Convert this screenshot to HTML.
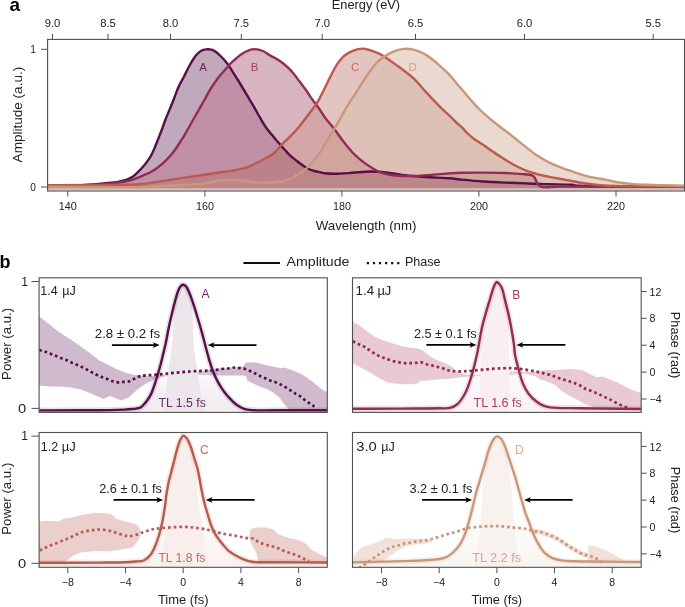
<!DOCTYPE html><html><head><meta charset="utf-8"><style>html,body{margin:0;padding:0;background:#fff;overflow:hidden}svg{display:block;will-change:transform}</style></head><body><svg width="685" height="607" viewBox="0 0 685 607" font-family="&quot;Liberation Sans&quot;, sans-serif">
<rect width="685" height="607" fill="#fff"/>
<g>
<rect x="47.6" y="188.3" width="636.9" height="2.2" fill="#dcbcb8"/>
<clipPath id="fA"><path d="M47.6,186.3C56.5,186 66.7,185.6 74.2,185.3C79.8,185.1 83.9,184.9 88.8,184.6C93.7,184.3 98.5,183.8 103.4,183.4C108.3,182.9 113.8,182.6 118,181.9C121.3,181.3 124.2,180.7 126.8,179.7C129,178.9 130.7,178 132.6,176.8C134.6,175.4 136.5,173.6 138.4,171.7C140.6,169.6 142.9,167 144.9,164.6C146.7,162.3 148.4,160.1 149.9,157.7C151.4,155.2 152.5,152.6 153.8,149.8C155.2,146.7 156.5,143.2 157.8,139.9C159.1,136.6 160.4,133.4 161.7,130C163,126.6 164.2,122.9 165.5,119.5C166.8,116.1 168.3,112.9 169.6,109.6C170.9,106.4 172.1,103.4 173.5,100C175.1,96 176.7,91 178.5,87C180.1,83.4 182.1,80.2 183.8,77C185.3,74 186.6,71.1 188.1,68.3C189.5,65.6 191,62.8 192.5,60.4C193.9,58.2 195.3,56 196.9,54.3C198.3,52.9 199.8,51.6 201.3,50.8C202.7,50.1 204.3,49.6 205.7,49.4C206.9,49.2 207.9,49.2 209,49.3C210,49.4 210.8,49.4 211.8,49.7C212.9,50.1 214.1,50.8 215.3,51.6C216.9,52.7 218.8,54.4 220.5,56C222.3,57.7 224.3,59.8 225.8,61.7C227.1,63.3 228,64.7 229.3,66.5C230.9,68.9 233,72.4 234.6,74.8C235.8,76.7 236.6,77.9 237.9,80C240,83.4 243.2,88.8 245.8,93.2C248.4,97.6 251.2,102.1 253.7,106.4C256,110.4 258.1,114.4 260.3,118.2C262.5,121.9 264.6,125.6 266.9,128.8C269,131.7 271.3,134.1 273.5,136.7C275.7,139.3 277.9,142 280.1,144.6C282.3,147.1 284.9,149.9 286.7,151.9C288,153.3 288.7,154.2 290,155.4C291.4,156.7 293.3,158.1 294.9,159.4C296.6,160.7 298.2,162.1 299.9,163.3C301.5,164.5 303.3,165.8 304.8,166.8C306,167.6 307.1,168.2 308.3,168.8C309.5,169.4 310.7,169.8 312.2,170.3C314.3,171 317.4,171.7 319.7,172.2C321.7,172.6 323.2,173 325.3,173.3C327.9,173.6 330.8,173.8 334.3,173.8C339.3,173.8 346.4,173.2 352.5,172.8C358.5,172.4 364.5,171.5 370.6,171.5C376.9,171.5 383.8,172.2 389.8,172.9C395.2,173.5 399.5,174.5 405,175.2C411.3,176 418.4,176.5 425.6,177C433.4,177.5 443.4,177.8 450,178.3C454.6,178.7 457.2,179.2 461.7,179.6C467.8,180.2 476.2,181 483.5,181.5C490.7,182 498,182.3 505.2,182.6C512.5,182.9 519.7,183.1 527,183.4C534.2,183.7 541.3,184 548.7,184.2C556.3,184.4 566.8,184.3 572,184.8C574.7,185.1 575.4,185.6 578,185.8C583,186.2 590.3,186 600,186.1C619,186.3 656,186.2 684,186.3 L684,188.3 L47.6,188.3Z"/></clipPath>
<path d="M47.6,186.3C56.5,186 66.7,185.6 74.2,185.3C79.8,185.1 83.9,184.9 88.8,184.6C93.7,184.3 98.5,183.8 103.4,183.4C108.3,182.9 113.8,182.6 118,181.9C121.3,181.3 124.2,180.7 126.8,179.7C129,178.9 130.7,178 132.6,176.8C134.6,175.4 136.5,173.6 138.4,171.7C140.6,169.6 142.9,167 144.9,164.6C146.7,162.3 148.4,160.1 149.9,157.7C151.4,155.2 152.5,152.6 153.8,149.8C155.2,146.7 156.5,143.2 157.8,139.9C159.1,136.6 160.4,133.4 161.7,130C163,126.6 164.2,122.9 165.5,119.5C166.8,116.1 168.3,112.9 169.6,109.6C170.9,106.4 172.1,103.4 173.5,100C175.1,96 176.7,91 178.5,87C180.1,83.4 182.1,80.2 183.8,77C185.3,74 186.6,71.1 188.1,68.3C189.5,65.6 191,62.8 192.5,60.4C193.9,58.2 195.3,56 196.9,54.3C198.3,52.9 199.8,51.6 201.3,50.8C202.7,50.1 204.3,49.6 205.7,49.4C206.9,49.2 207.9,49.2 209,49.3C210,49.4 210.8,49.4 211.8,49.7C212.9,50.1 214.1,50.8 215.3,51.6C216.9,52.7 218.8,54.4 220.5,56C222.3,57.7 224.3,59.8 225.8,61.7C227.1,63.3 228,64.7 229.3,66.5C230.9,68.9 233,72.4 234.6,74.8C235.8,76.7 236.6,77.9 237.9,80C240,83.4 243.2,88.8 245.8,93.2C248.4,97.6 251.2,102.1 253.7,106.4C256,110.4 258.1,114.4 260.3,118.2C262.5,121.9 264.6,125.6 266.9,128.8C269,131.7 271.3,134.1 273.5,136.7C275.7,139.3 277.9,142 280.1,144.6C282.3,147.1 284.9,149.9 286.7,151.9C288,153.3 288.7,154.2 290,155.4C291.4,156.7 293.3,158.1 294.9,159.4C296.6,160.7 298.2,162.1 299.9,163.3C301.5,164.5 303.3,165.8 304.8,166.8C306,167.6 307.1,168.2 308.3,168.8C309.5,169.4 310.7,169.8 312.2,170.3C314.3,171 317.4,171.7 319.7,172.2C321.7,172.6 323.2,173 325.3,173.3C327.9,173.6 330.8,173.8 334.3,173.8C339.3,173.8 346.4,173.2 352.5,172.8C358.5,172.4 364.5,171.5 370.6,171.5C376.9,171.5 383.8,172.2 389.8,172.9C395.2,173.5 399.5,174.5 405,175.2C411.3,176 418.4,176.5 425.6,177C433.4,177.5 443.4,177.8 450,178.3C454.6,178.7 457.2,179.2 461.7,179.6C467.8,180.2 476.2,181 483.5,181.5C490.7,182 498,182.3 505.2,182.6C512.5,182.9 519.7,183.1 527,183.4C534.2,183.7 541.3,184 548.7,184.2C556.3,184.4 566.8,184.3 572,184.8C574.7,185.1 575.4,185.6 578,185.8C583,186.2 590.3,186 600,186.1C619,186.3 656,186.2 684,186.3 L684,188.3 L47.6,188.3Z" fill="#987091" fill-opacity="0.6"/>
<clipPath id="fB"><path d="M47.6,186C61.7,185.6 78.5,185.4 90,184.9C97.9,184.5 103.8,184.2 110,183.6C115.4,183.1 120.9,182.4 125,181.6C128,181 130.1,180.5 132.6,179.7C135.1,178.9 137.8,177.8 140,176.9C141.8,176.1 143.3,175.3 145,174.6C146.6,173.9 148.1,173.4 149.9,172.5C152.3,171.3 155.2,169.5 157.8,167.5C160.8,165.3 164,162.3 166.7,159.6C169.2,157 171.3,154.7 173.6,151.7C176.3,148.2 179.1,143.7 181.5,139.9C183.7,136.5 185.5,133.3 187.4,130C189.3,126.7 191.1,123.3 193,120C194.9,116.7 196.8,113.3 198.7,110C200.6,106.7 202.3,103.5 204.3,100C206.6,95.9 209.3,91 211.8,87C214.1,83.4 216.6,79.9 218.8,77C220.6,74.7 222.3,72.9 224.1,70.9C225.8,68.9 227.5,66.7 229.3,64.8C231.1,62.9 233.1,61.2 235,59.5C237,57.8 238.8,56 241,54.5C243.3,52.9 246.2,51.2 248.7,50.3C250.8,49.5 252.5,49.1 254.7,49.1C257.2,49.1 260.4,49.9 263,51C265.5,52 267.4,53.9 270,55.4C273,57.2 276.9,58.9 279.9,60.9C282.8,62.8 285.4,65.1 287.8,67.3C290,69.4 291.8,71.4 293.7,73.7C295.7,76.1 297.6,79 299.6,81.6C301.6,84.2 303.7,86.8 305.6,89.5C307.6,92.3 309.5,95.5 311.5,98.4C313.4,101.1 315.3,103.4 317.4,106.3C319.9,109.8 322.5,114.2 325.3,118C328.1,121.8 331.4,125.1 334.3,128.9C337.4,132.9 340.3,137.6 343.4,141.6C346.4,145.4 349.4,149.2 352.5,152.5C355.4,155.5 358.4,158.1 361.5,160.6C364.5,163 367.5,165.1 370.6,167C373.7,168.9 376.8,170.9 380,172.2C383.2,173.5 386.3,174.2 389.8,174.8C393.5,175.5 397.7,175.8 401.7,176C405.7,176.2 409.7,176.1 413.7,176C417.7,175.9 421.4,175.6 425.6,175.3C430.2,175 434.7,174.5 440,174.1C446.5,173.6 454.5,173.1 461.7,172.8C469,172.5 476.2,172.6 483.5,172.6C490.7,172.6 498.4,172.7 505.2,173C511.3,173.2 517.7,173.6 522.6,174.1C526.2,174.4 530,174.5 532,175.3C533.1,175.7 533.4,176.1 534.2,177C535.8,178.8 536.8,184.4 540,186.2C544.3,188.7 550.5,186.5 560,186.6C583.7,186.9 642.7,186.7 684,186.8 L684,188.3 L47.6,188.3Z"/></clipPath>
<path d="M47.6,186C61.7,185.6 78.5,185.4 90,184.9C97.9,184.5 103.8,184.2 110,183.6C115.4,183.1 120.9,182.4 125,181.6C128,181 130.1,180.5 132.6,179.7C135.1,178.9 137.8,177.8 140,176.9C141.8,176.1 143.3,175.3 145,174.6C146.6,173.9 148.1,173.4 149.9,172.5C152.3,171.3 155.2,169.5 157.8,167.5C160.8,165.3 164,162.3 166.7,159.6C169.2,157 171.3,154.7 173.6,151.7C176.3,148.2 179.1,143.7 181.5,139.9C183.7,136.5 185.5,133.3 187.4,130C189.3,126.7 191.1,123.3 193,120C194.9,116.7 196.8,113.3 198.7,110C200.6,106.7 202.3,103.5 204.3,100C206.6,95.9 209.3,91 211.8,87C214.1,83.4 216.6,79.9 218.8,77C220.6,74.7 222.3,72.9 224.1,70.9C225.8,68.9 227.5,66.7 229.3,64.8C231.1,62.9 233.1,61.2 235,59.5C237,57.8 238.8,56 241,54.5C243.3,52.9 246.2,51.2 248.7,50.3C250.8,49.5 252.5,49.1 254.7,49.1C257.2,49.1 260.4,49.9 263,51C265.5,52 267.4,53.9 270,55.4C273,57.2 276.9,58.9 279.9,60.9C282.8,62.8 285.4,65.1 287.8,67.3C290,69.4 291.8,71.4 293.7,73.7C295.7,76.1 297.6,79 299.6,81.6C301.6,84.2 303.7,86.8 305.6,89.5C307.6,92.3 309.5,95.5 311.5,98.4C313.4,101.1 315.3,103.4 317.4,106.3C319.9,109.8 322.5,114.2 325.3,118C328.1,121.8 331.4,125.1 334.3,128.9C337.4,132.9 340.3,137.6 343.4,141.6C346.4,145.4 349.4,149.2 352.5,152.5C355.4,155.5 358.4,158.1 361.5,160.6C364.5,163 367.5,165.1 370.6,167C373.7,168.9 376.8,170.9 380,172.2C383.2,173.5 386.3,174.2 389.8,174.8C393.5,175.5 397.7,175.8 401.7,176C405.7,176.2 409.7,176.1 413.7,176C417.7,175.9 421.4,175.6 425.6,175.3C430.2,175 434.7,174.5 440,174.1C446.5,173.6 454.5,173.1 461.7,172.8C469,172.5 476.2,172.6 483.5,172.6C490.7,172.6 498.4,172.7 505.2,173C511.3,173.2 517.7,173.6 522.6,174.1C526.2,174.4 530,174.5 532,175.3C533.1,175.7 533.4,176.1 534.2,177C535.8,178.8 536.8,184.4 540,186.2C544.3,188.7 550.5,186.5 560,186.6C583.7,186.9 642.7,186.7 684,186.8 L684,188.3 L47.6,188.3Z" fill="#be8096" fill-opacity="0.6"/>
<clipPath id="fC"><path d="M47.6,185.3C61.7,185.2 75.3,185.1 90,184.9C106,184.7 127.2,185.3 140,184.3C148.1,183.7 153.2,182.4 159.8,181.4C166.4,180.4 172.9,179.4 179.5,178.4C186.1,177.4 192.4,176.5 199.3,175.5C206.9,174.4 216.8,172.8 223.4,171.8C228,171.1 231.2,170.9 235.1,170.2C239,169.4 243,168.6 246.8,167.3C250.8,165.9 255.1,163.7 258.5,162C261.3,160.6 263.5,159.4 266,158C268.5,156.6 271.2,155.6 273.5,153.8C276,151.8 277.6,148.9 280.1,146.3C283,143.2 286.9,139.9 290,136.7C292.9,133.8 295.4,131.2 298.1,128C301.1,124.4 304.1,120.3 307.2,116.2C310.5,111.8 314.3,107.2 317.2,102.6C320,98.2 322,93.6 324.3,89.1C326.5,84.7 328.4,80.3 330.6,76.1C332.7,72 334.8,67.6 337.2,64.1C339.4,61 341.5,58.1 344.3,55.8C347.1,53.5 350.7,51.5 353.9,50.3C356.7,49.2 359.5,48.6 362.3,48.6C365.1,48.6 367.8,49.5 370.6,50.3C373.7,51.2 377.1,52.5 380.2,54.1C383.5,55.8 386.4,58.2 389.8,60.5C393.6,63.1 397.8,65.9 401.7,68.9C405.7,71.9 409.8,74.9 413.7,78.5C417.8,82.4 421.4,87.1 425.6,91.6C430.1,96.5 435.9,102.7 440,106.8C443,109.7 445.3,111.6 447.9,114.1C450.6,116.7 453.1,119.5 455.8,122C458.4,124.5 461.9,127.3 463.7,129.2C464.7,130.3 464.9,130.9 466,132C467.9,134 471.8,137.3 474.8,139.5C477.6,141.6 480.6,143.2 483.5,145.1C486.4,147.1 489.4,149.3 492.3,151.3C495.2,153.3 498.1,155.1 501,157C503.9,158.9 506.8,160.8 509.8,162.5C512.7,164.2 515.7,165.8 518.7,167.3C521.6,168.7 524.5,170.1 527.5,171.2C530.4,172.3 533.4,173 536.3,173.8C539.2,174.6 542.1,175.3 545,176C547.9,176.6 550.9,177.1 553.8,177.7C556.7,178.2 559.5,178.7 562.6,179.3C565.9,179.9 569.2,180.6 573,181.3C577.5,182.1 582.9,183.1 587.6,183.8C591.9,184.4 595.6,184.8 600,185.2C605,185.6 608.8,185.8 616,186C630.8,186.4 661.3,186.3 684,186.5 L684,188.3 L47.6,188.3Z"/></clipPath>
<path d="M47.6,185.3C61.7,185.2 75.3,185.1 90,184.9C106,184.7 127.2,185.3 140,184.3C148.1,183.7 153.2,182.4 159.8,181.4C166.4,180.4 172.9,179.4 179.5,178.4C186.1,177.4 192.4,176.5 199.3,175.5C206.9,174.4 216.8,172.8 223.4,171.8C228,171.1 231.2,170.9 235.1,170.2C239,169.4 243,168.6 246.8,167.3C250.8,165.9 255.1,163.7 258.5,162C261.3,160.6 263.5,159.4 266,158C268.5,156.6 271.2,155.6 273.5,153.8C276,151.8 277.6,148.9 280.1,146.3C283,143.2 286.9,139.9 290,136.7C292.9,133.8 295.4,131.2 298.1,128C301.1,124.4 304.1,120.3 307.2,116.2C310.5,111.8 314.3,107.2 317.2,102.6C320,98.2 322,93.6 324.3,89.1C326.5,84.7 328.4,80.3 330.6,76.1C332.7,72 334.8,67.6 337.2,64.1C339.4,61 341.5,58.1 344.3,55.8C347.1,53.5 350.7,51.5 353.9,50.3C356.7,49.2 359.5,48.6 362.3,48.6C365.1,48.6 367.8,49.5 370.6,50.3C373.7,51.2 377.1,52.5 380.2,54.1C383.5,55.8 386.4,58.2 389.8,60.5C393.6,63.1 397.8,65.9 401.7,68.9C405.7,71.9 409.8,74.9 413.7,78.5C417.8,82.4 421.4,87.1 425.6,91.6C430.1,96.5 435.9,102.7 440,106.8C443,109.7 445.3,111.6 447.9,114.1C450.6,116.7 453.1,119.5 455.8,122C458.4,124.5 461.9,127.3 463.7,129.2C464.7,130.3 464.9,130.9 466,132C467.9,134 471.8,137.3 474.8,139.5C477.6,141.6 480.6,143.2 483.5,145.1C486.4,147.1 489.4,149.3 492.3,151.3C495.2,153.3 498.1,155.1 501,157C503.9,158.9 506.8,160.8 509.8,162.5C512.7,164.2 515.7,165.8 518.7,167.3C521.6,168.7 524.5,170.1 527.5,171.2C530.4,172.3 533.4,173 536.3,173.8C539.2,174.6 542.1,175.3 545,176C547.9,176.6 550.9,177.1 553.8,177.7C556.7,178.2 559.5,178.7 562.6,179.3C565.9,179.9 569.2,180.6 573,181.3C577.5,182.1 582.9,183.1 587.6,183.8C591.9,184.4 595.6,184.8 600,185.2C605,185.6 608.8,185.8 616,186C630.8,186.4 661.3,186.3 684,186.5 L684,188.3 L47.6,188.3Z" fill="#d29d96" fill-opacity="0.6"/>
<clipPath id="fD"><path d="M47.6,186.8C65.1,186.9 83.7,186.9 100,187C114.2,187.1 127.7,187.5 140,187.2C150.6,187 159.7,186.3 169.6,185.8C179.5,185.2 189.9,184.9 199.3,183.9C207.8,183 216.8,180.9 223.4,180.3C228,179.9 231.2,179.9 235.1,180C239,180.1 242.7,180.8 246.8,181.2C251.3,181.7 256.1,182.5 260.8,182.7C265.5,182.9 270.9,182.5 274.8,182.2C277.6,182 279.6,182 282,181.5C284.6,181 287.7,180.2 290,179.2C291.9,178.4 293.3,177.2 294.9,176.2C296.6,175.2 298.3,174.3 299.9,173.2C301.6,172.1 303.4,170.9 304.8,169.8C306,168.9 306.9,168.1 308,167C309.3,165.7 310.8,164 312.2,162.4C313.6,160.8 314.9,159 316.2,157.4C317.4,155.9 318.5,154.8 319.7,153C321.4,150.5 323.2,146.9 325.3,143.4C327.9,139 331.5,133.6 334.3,128.9C336.9,124.5 339.2,120.4 341.6,116.2C344,112 346.3,107.6 348.8,103.6C351.2,99.8 353.7,96.4 356.1,92.7C358.5,88.9 361.1,84.4 363.3,81C365.1,78.3 366.2,76.4 368.2,73.7C370.8,70.1 374.4,65 377.8,61.7C380.8,58.8 384.1,56.5 387.4,54.6C390.5,52.8 393.7,51.3 396.9,50.3C400,49.4 403.3,48.8 406.5,48.8C409.7,48.8 413,49.4 416.1,50.3C419.3,51.3 422.5,52.8 425.6,54.6C428.9,56.5 432.6,59.6 435.2,61.7C437.1,63.2 438.2,64.3 440,65.9C442.3,68 445.3,70.5 447.9,73.2C450.6,76 453.2,79.3 455.8,82.4C458.4,85.5 461.1,88.5 463.7,91.6C466.3,94.7 468.9,97.9 471.6,100.9C474.2,103.9 476.9,106.8 479.6,109.5C482.2,112.1 484.8,114.4 487.5,116.7C490.1,119 492.7,121.2 495.4,123.3C498,125.4 500.8,127.3 503.3,129.2C505.6,130.9 507.6,132.4 509.9,134.2C512.7,136.4 515.8,139 518.8,141.4C521.7,143.8 524.6,146.1 527.5,148.4C530.4,150.7 533.3,153 536.3,155C539.2,156.9 542.1,158.6 545,160.2C547.9,161.8 550.8,163.3 553.8,164.6C556.7,165.9 559.8,167 562.6,168.1C565.2,169.1 567,169.7 570,170.7C574.6,172.2 581.8,174.8 587.6,176.3C593.1,177.7 598.7,178.4 603.9,179.4C608.7,180.3 613.1,181.4 617.7,182.2C622.3,182.9 627,183.5 631.6,183.9C636.2,184.3 640.9,184.5 645.5,184.7C650.1,184.9 654,185.1 659.3,185.2C666.3,185.4 675.8,185.5 684,185.7 L684,188.3 L47.6,188.3Z"/></clipPath>
<path d="M47.6,186.8C65.1,186.9 83.7,186.9 100,187C114.2,187.1 127.7,187.5 140,187.2C150.6,187 159.7,186.3 169.6,185.8C179.5,185.2 189.9,184.9 199.3,183.9C207.8,183 216.8,180.9 223.4,180.3C228,179.9 231.2,179.9 235.1,180C239,180.1 242.7,180.8 246.8,181.2C251.3,181.7 256.1,182.5 260.8,182.7C265.5,182.9 270.9,182.5 274.8,182.2C277.6,182 279.6,182 282,181.5C284.6,181 287.7,180.2 290,179.2C291.9,178.4 293.3,177.2 294.9,176.2C296.6,175.2 298.3,174.3 299.9,173.2C301.6,172.1 303.4,170.9 304.8,169.8C306,168.9 306.9,168.1 308,167C309.3,165.7 310.8,164 312.2,162.4C313.6,160.8 314.9,159 316.2,157.4C317.4,155.9 318.5,154.8 319.7,153C321.4,150.5 323.2,146.9 325.3,143.4C327.9,139 331.5,133.6 334.3,128.9C336.9,124.5 339.2,120.4 341.6,116.2C344,112 346.3,107.6 348.8,103.6C351.2,99.8 353.7,96.4 356.1,92.7C358.5,88.9 361.1,84.4 363.3,81C365.1,78.3 366.2,76.4 368.2,73.7C370.8,70.1 374.4,65 377.8,61.7C380.8,58.8 384.1,56.5 387.4,54.6C390.5,52.8 393.7,51.3 396.9,50.3C400,49.4 403.3,48.8 406.5,48.8C409.7,48.8 413,49.4 416.1,50.3C419.3,51.3 422.5,52.8 425.6,54.6C428.9,56.5 432.6,59.6 435.2,61.7C437.1,63.2 438.2,64.3 440,65.9C442.3,68 445.3,70.5 447.9,73.2C450.6,76 453.2,79.3 455.8,82.4C458.4,85.5 461.1,88.5 463.7,91.6C466.3,94.7 468.9,97.9 471.6,100.9C474.2,103.9 476.9,106.8 479.6,109.5C482.2,112.1 484.8,114.4 487.5,116.7C490.1,119 492.7,121.2 495.4,123.3C498,125.4 500.8,127.3 503.3,129.2C505.6,130.9 507.6,132.4 509.9,134.2C512.7,136.4 515.8,139 518.8,141.4C521.7,143.8 524.6,146.1 527.5,148.4C530.4,150.7 533.3,153 536.3,155C539.2,156.9 542.1,158.6 545,160.2C547.9,161.8 550.8,163.3 553.8,164.6C556.7,165.9 559.8,167 562.6,168.1C565.2,169.1 567,169.7 570,170.7C574.6,172.2 581.8,174.8 587.6,176.3C593.1,177.7 598.7,178.4 603.9,179.4C608.7,180.3 613.1,181.4 617.7,182.2C622.3,182.9 627,183.5 631.6,183.9C636.2,184.3 640.9,184.5 645.5,184.7C650.1,184.9 654,185.1 659.3,185.2C666.3,185.4 675.8,185.5 684,185.7 L684,188.3 L47.6,188.3Z" fill="#dbc0af" fill-opacity="0.6"/>
<g clip-path="url(#fB)"><g clip-path="url(#fC)"><rect clip-path="url(#fD)" x="47.6" y="39.4" width="636.9" height="151" fill="#ca938c" fill-opacity="0.5"/></g></g>
<g clip-path="url(#fA)"><g clip-path="url(#fB)"><rect clip-path="url(#fC)" x="47.6" y="39.4" width="636.9" height="151" fill="#ac6d7a" fill-opacity="0.5"/></g></g>
<path d="M47.6,186.3C56.5,186 66.7,185.6 74.2,185.3C79.8,185.1 83.9,184.9 88.8,184.6C93.7,184.3 98.5,183.8 103.4,183.4C108.3,182.9 113.8,182.6 118,181.9C121.3,181.3 124.2,180.7 126.8,179.7C129,178.9 130.7,178 132.6,176.8C134.6,175.4 136.5,173.6 138.4,171.7C140.6,169.6 142.9,167 144.9,164.6C146.7,162.3 148.4,160.1 149.9,157.7C151.4,155.2 152.5,152.6 153.8,149.8C155.2,146.7 156.5,143.2 157.8,139.9C159.1,136.6 160.4,133.4 161.7,130C163,126.6 164.2,122.9 165.5,119.5C166.8,116.1 168.3,112.9 169.6,109.6C170.9,106.4 172.1,103.4 173.5,100C175.1,96 176.7,91 178.5,87C180.1,83.4 182.1,80.2 183.8,77C185.3,74 186.6,71.1 188.1,68.3C189.5,65.6 191,62.8 192.5,60.4C193.9,58.2 195.3,56 196.9,54.3C198.3,52.9 199.8,51.6 201.3,50.8C202.7,50.1 204.3,49.6 205.7,49.4C206.9,49.2 207.9,49.2 209,49.3C210,49.4 210.8,49.4 211.8,49.7C212.9,50.1 214.1,50.8 215.3,51.6C216.9,52.7 218.8,54.4 220.5,56C222.3,57.7 224.3,59.8 225.8,61.7C227.1,63.3 228,64.7 229.3,66.5C230.9,68.9 233,72.4 234.6,74.8C235.8,76.7 236.6,77.9 237.9,80C240,83.4 243.2,88.8 245.8,93.2C248.4,97.6 251.2,102.1 253.7,106.4C256,110.4 258.1,114.4 260.3,118.2C262.5,121.9 264.6,125.6 266.9,128.8C269,131.7 271.3,134.1 273.5,136.7C275.7,139.3 277.9,142 280.1,144.6C282.3,147.1 284.9,149.9 286.7,151.9C288,153.3 288.7,154.2 290,155.4C291.4,156.7 293.3,158.1 294.9,159.4C296.6,160.7 298.2,162.1 299.9,163.3C301.5,164.5 303.3,165.8 304.8,166.8C306,167.6 307.1,168.2 308.3,168.8C309.5,169.4 310.7,169.8 312.2,170.3C314.3,171 317.4,171.7 319.7,172.2C321.7,172.6 323.2,173 325.3,173.3C327.9,173.6 330.8,173.8 334.3,173.8C339.3,173.8 346.4,173.2 352.5,172.8C358.5,172.4 364.5,171.5 370.6,171.5C376.9,171.5 383.8,172.2 389.8,172.9C395.2,173.5 399.5,174.5 405,175.2C411.3,176 418.4,176.5 425.6,177C433.4,177.5 443.4,177.8 450,178.3C454.6,178.7 457.2,179.2 461.7,179.6C467.8,180.2 476.2,181 483.5,181.5C490.7,182 498,182.3 505.2,182.6C512.5,182.9 519.7,183.1 527,183.4C534.2,183.7 541.3,184 548.7,184.2C556.3,184.4 566.8,184.3 572,184.8C574.7,185.1 575.4,185.6 578,185.8C583,186.2 590.3,186 600,186.1C619,186.3 656,186.2 684,186.3" fill="none" stroke="#570f48" stroke-width="2.4" stroke-linejoin="round"/>
<path d="M47.6,186C61.7,185.6 78.5,185.4 90,184.9C97.9,184.5 103.8,184.2 110,183.6C115.4,183.1 120.9,182.4 125,181.6C128,181 130.1,180.5 132.6,179.7C135.1,178.9 137.8,177.8 140,176.9C141.8,176.1 143.3,175.3 145,174.6C146.6,173.9 148.1,173.4 149.9,172.5C152.3,171.3 155.2,169.5 157.8,167.5C160.8,165.3 164,162.3 166.7,159.6C169.2,157 171.3,154.7 173.6,151.7C176.3,148.2 179.1,143.7 181.5,139.9C183.7,136.5 185.5,133.3 187.4,130C189.3,126.7 191.1,123.3 193,120C194.9,116.7 196.8,113.3 198.7,110C200.6,106.7 202.3,103.5 204.3,100C206.6,95.9 209.3,91 211.8,87C214.1,83.4 216.6,79.9 218.8,77C220.6,74.7 222.3,72.9 224.1,70.9C225.8,68.9 227.5,66.7 229.3,64.8C231.1,62.9 233.1,61.2 235,59.5C237,57.8 238.8,56 241,54.5C243.3,52.9 246.2,51.2 248.7,50.3C250.8,49.5 252.5,49.1 254.7,49.1C257.2,49.1 260.4,49.9 263,51C265.5,52 267.4,53.9 270,55.4C273,57.2 276.9,58.9 279.9,60.9C282.8,62.8 285.4,65.1 287.8,67.3C290,69.4 291.8,71.4 293.7,73.7C295.7,76.1 297.6,79 299.6,81.6C301.6,84.2 303.7,86.8 305.6,89.5C307.6,92.3 309.5,95.5 311.5,98.4C313.4,101.1 315.3,103.4 317.4,106.3C319.9,109.8 322.5,114.2 325.3,118C328.1,121.8 331.4,125.1 334.3,128.9C337.4,132.9 340.3,137.6 343.4,141.6C346.4,145.4 349.4,149.2 352.5,152.5C355.4,155.5 358.4,158.1 361.5,160.6C364.5,163 367.5,165.1 370.6,167C373.7,168.9 376.8,170.9 380,172.2C383.2,173.5 386.3,174.2 389.8,174.8C393.5,175.5 397.7,175.8 401.7,176C405.7,176.2 409.7,176.1 413.7,176C417.7,175.9 421.4,175.6 425.6,175.3C430.2,175 434.7,174.5 440,174.1C446.5,173.6 454.5,173.1 461.7,172.8C469,172.5 476.2,172.6 483.5,172.6C490.7,172.6 498.4,172.7 505.2,173C511.3,173.2 517.7,173.6 522.6,174.1C526.2,174.4 530,174.5 532,175.3C533.1,175.7 533.4,176.1 534.2,177C535.8,178.8 536.8,184.4 540,186.2C544.3,188.7 550.5,186.5 560,186.6C583.7,186.9 642.7,186.7 684,186.8" fill="none" stroke="#932c52" stroke-width="2.4" stroke-linejoin="round"/>
<path d="M47.6,185.3C61.7,185.2 75.3,185.1 90,184.9C106,184.7 127.2,185.3 140,184.3C148.1,183.7 153.2,182.4 159.8,181.4C166.4,180.4 172.9,179.4 179.5,178.4C186.1,177.4 192.4,176.5 199.3,175.5C206.9,174.4 216.8,172.8 223.4,171.8C228,171.1 231.2,170.9 235.1,170.2C239,169.4 243,168.6 246.8,167.3C250.8,165.9 255.1,163.7 258.5,162C261.3,160.6 263.5,159.4 266,158C268.5,156.6 271.2,155.6 273.5,153.8C276,151.8 277.6,148.9 280.1,146.3C283,143.2 286.9,139.9 290,136.7C292.9,133.8 295.4,131.2 298.1,128C301.1,124.4 304.1,120.3 307.2,116.2C310.5,111.8 314.3,107.2 317.2,102.6C320,98.2 322,93.6 324.3,89.1C326.5,84.7 328.4,80.3 330.6,76.1C332.7,72 334.8,67.6 337.2,64.1C339.4,61 341.5,58.1 344.3,55.8C347.1,53.5 350.7,51.5 353.9,50.3C356.7,49.2 359.5,48.6 362.3,48.6C365.1,48.6 367.8,49.5 370.6,50.3C373.7,51.2 377.1,52.5 380.2,54.1C383.5,55.8 386.4,58.2 389.8,60.5C393.6,63.1 397.8,65.9 401.7,68.9C405.7,71.9 409.8,74.9 413.7,78.5C417.8,82.4 421.4,87.1 425.6,91.6C430.1,96.5 435.9,102.7 440,106.8C443,109.7 445.3,111.6 447.9,114.1C450.6,116.7 453.1,119.5 455.8,122C458.4,124.5 461.9,127.3 463.7,129.2C464.7,130.3 464.9,130.9 466,132C467.9,134 471.8,137.3 474.8,139.5C477.6,141.6 480.6,143.2 483.5,145.1C486.4,147.1 489.4,149.3 492.3,151.3C495.2,153.3 498.1,155.1 501,157C503.9,158.9 506.8,160.8 509.8,162.5C512.7,164.2 515.7,165.8 518.7,167.3C521.6,168.7 524.5,170.1 527.5,171.2C530.4,172.3 533.4,173 536.3,173.8C539.2,174.6 542.1,175.3 545,176C547.9,176.6 550.9,177.1 553.8,177.7C556.7,178.2 559.5,178.7 562.6,179.3C565.9,179.9 569.2,180.6 573,181.3C577.5,182.1 582.9,183.1 587.6,183.8C591.9,184.4 595.6,184.8 600,185.2C605,185.6 608.8,185.8 616,186C630.8,186.4 661.3,186.3 684,186.5" fill="none" stroke="#bb5a4d" stroke-width="2.4" stroke-linejoin="round"/>
<path d="M47.6,186.8C65.1,186.9 83.7,186.9 100,187C114.2,187.1 127.7,187.5 140,187.2C150.6,187 159.7,186.3 169.6,185.8C179.5,185.2 189.9,184.9 199.3,183.9C207.8,183 216.8,180.9 223.4,180.3C228,179.9 231.2,179.9 235.1,180C239,180.1 242.7,180.8 246.8,181.2C251.3,181.7 256.1,182.5 260.8,182.7C265.5,182.9 270.9,182.5 274.8,182.2C277.6,182 279.6,182 282,181.5C284.6,181 287.7,180.2 290,179.2C291.9,178.4 293.3,177.2 294.9,176.2C296.6,175.2 298.3,174.3 299.9,173.2C301.6,172.1 303.4,170.9 304.8,169.8C306,168.9 306.9,168.1 308,167C309.3,165.7 310.8,164 312.2,162.4C313.6,160.8 314.9,159 316.2,157.4C317.4,155.9 318.5,154.8 319.7,153C321.4,150.5 323.2,146.9 325.3,143.4C327.9,139 331.5,133.6 334.3,128.9C336.9,124.5 339.2,120.4 341.6,116.2C344,112 346.3,107.6 348.8,103.6C351.2,99.8 353.7,96.4 356.1,92.7C358.5,88.9 361.1,84.4 363.3,81C365.1,78.3 366.2,76.4 368.2,73.7C370.8,70.1 374.4,65 377.8,61.7C380.8,58.8 384.1,56.5 387.4,54.6C390.5,52.8 393.7,51.3 396.9,50.3C400,49.4 403.3,48.8 406.5,48.8C409.7,48.8 413,49.4 416.1,50.3C419.3,51.3 422.5,52.8 425.6,54.6C428.9,56.5 432.6,59.6 435.2,61.7C437.1,63.2 438.2,64.3 440,65.9C442.3,68 445.3,70.5 447.9,73.2C450.6,76 453.2,79.3 455.8,82.4C458.4,85.5 461.1,88.5 463.7,91.6C466.3,94.7 468.9,97.9 471.6,100.9C474.2,103.9 476.9,106.8 479.6,109.5C482.2,112.1 484.8,114.4 487.5,116.7C490.1,119 492.7,121.2 495.4,123.3C498,125.4 500.8,127.3 503.3,129.2C505.6,130.9 507.6,132.4 509.9,134.2C512.7,136.4 515.8,139 518.8,141.4C521.7,143.8 524.6,146.1 527.5,148.4C530.4,150.7 533.3,153 536.3,155C539.2,156.9 542.1,158.6 545,160.2C547.9,161.8 550.8,163.3 553.8,164.6C556.7,165.9 559.8,167 562.6,168.1C565.2,169.1 567,169.7 570,170.7C574.6,172.2 581.8,174.8 587.6,176.3C593.1,177.7 598.7,178.4 603.9,179.4C608.7,180.3 613.1,181.4 617.7,182.2C622.3,182.9 627,183.5 631.6,183.9C636.2,184.3 640.9,184.5 645.5,184.7C650.1,184.9 654,185.1 659.3,185.2C666.3,185.4 675.8,185.5 684,185.7" fill="none" stroke="#c9977a" stroke-width="2.4" stroke-linejoin="round"/>
</g>
<text x="203.2" y="71.3" font-size="11.5" text-anchor="middle" fill="#6a2a60" >A</text>
<text x="254.6" y="71.3" font-size="11.5" text-anchor="middle" fill="#a0405f" >B</text>
<text x="355.1" y="71.3" font-size="11.5" text-anchor="middle" fill="#c06a5f" >C</text>
<text x="412.7" y="71.3" font-size="11.5" text-anchor="middle" fill="#d0a286" >D</text>
<rect x="47.6" y="39.4" width="636.9" height="151.6" fill="none" stroke="#505050" stroke-width="1.1"/>
<line x1="67.8" y1="191.0" x2="67.8" y2="196.5" stroke="#505050" stroke-width="1"/>
<text x="67.8" y="209.7" font-size="10.8" text-anchor="middle" fill="#222" textLength="18" lengthAdjust="spacingAndGlyphs">140</text>
<line x1="204.9" y1="191.0" x2="204.9" y2="196.5" stroke="#505050" stroke-width="1"/>
<text x="204.9" y="209.7" font-size="10.8" text-anchor="middle" fill="#222" textLength="18" lengthAdjust="spacingAndGlyphs">160</text>
<line x1="341.9" y1="191.0" x2="341.9" y2="196.5" stroke="#505050" stroke-width="1"/>
<text x="341.9" y="209.7" font-size="10.8" text-anchor="middle" fill="#222" textLength="18" lengthAdjust="spacingAndGlyphs">180</text>
<line x1="478.9" y1="191.0" x2="478.9" y2="196.5" stroke="#505050" stroke-width="1"/>
<text x="478.9" y="209.7" font-size="10.8" text-anchor="middle" fill="#222" textLength="18" lengthAdjust="spacingAndGlyphs">200</text>
<line x1="616" y1="191.0" x2="616" y2="196.5" stroke="#505050" stroke-width="1"/>
<text x="616" y="209.7" font-size="10.8" text-anchor="middle" fill="#222" textLength="18" lengthAdjust="spacingAndGlyphs">220</text>
<line x1="52.5" y1="39.4" x2="52.5" y2="33.9" stroke="#505050" stroke-width="1"/>
<text x="52.5" y="27.1" font-size="10.8" text-anchor="middle" fill="#222" textLength="15.6" lengthAdjust="spacingAndGlyphs">9.0</text>
<line x1="108" y1="39.4" x2="108" y2="33.9" stroke="#505050" stroke-width="1"/>
<text x="108" y="27.1" font-size="10.8" text-anchor="middle" fill="#222" textLength="15.6" lengthAdjust="spacingAndGlyphs">8.5</text>
<line x1="170.5" y1="39.4" x2="170.5" y2="33.9" stroke="#505050" stroke-width="1"/>
<text x="170.5" y="27.1" font-size="10.8" text-anchor="middle" fill="#222" textLength="15.6" lengthAdjust="spacingAndGlyphs">8.0</text>
<line x1="241.3" y1="39.4" x2="241.3" y2="33.9" stroke="#505050" stroke-width="1"/>
<text x="241.3" y="27.1" font-size="10.8" text-anchor="middle" fill="#222" textLength="15.6" lengthAdjust="spacingAndGlyphs">7.5</text>
<line x1="322.2" y1="39.4" x2="322.2" y2="33.9" stroke="#505050" stroke-width="1"/>
<text x="322.2" y="27.1" font-size="10.8" text-anchor="middle" fill="#222" textLength="15.6" lengthAdjust="spacingAndGlyphs">7.0</text>
<line x1="415.5" y1="39.4" x2="415.5" y2="33.9" stroke="#505050" stroke-width="1"/>
<text x="415.5" y="27.1" font-size="10.8" text-anchor="middle" fill="#222" textLength="15.6" lengthAdjust="spacingAndGlyphs">6.5</text>
<line x1="524.5" y1="39.4" x2="524.5" y2="33.9" stroke="#505050" stroke-width="1"/>
<text x="524.5" y="27.1" font-size="10.8" text-anchor="middle" fill="#222" textLength="15.6" lengthAdjust="spacingAndGlyphs">6.0</text>
<line x1="653.2" y1="39.4" x2="653.2" y2="33.9" stroke="#505050" stroke-width="1"/>
<text x="653.2" y="27.1" font-size="10.8" text-anchor="middle" fill="#222" textLength="15.6" lengthAdjust="spacingAndGlyphs">5.5</text>
<line x1="41" y1="49.3" x2="47.6" y2="49.3" stroke="#505050" stroke-width="1"/>
<text x="36" y="53" font-size="10.2" text-anchor="end" fill="#222" >1</text>
<line x1="41" y1="187.0" x2="47.6" y2="187.0" stroke="#505050" stroke-width="1"/>
<text x="36" y="190.7" font-size="10.2" text-anchor="end" fill="#222" >0</text>
<text x="365.9" y="9.3" font-size="12.2" text-anchor="middle" fill="#222" textLength="68.3" lengthAdjust="spacingAndGlyphs">Energy (eV)</text>
<text x="366.1" y="229.9" font-size="12.2" text-anchor="middle" fill="#222" textLength="100.8" lengthAdjust="spacingAndGlyphs">Wavelength (nm)</text>
<text transform="translate(21.5,114.6) rotate(-90)" font-size="12.2" text-anchor="middle" fill="#222" textLength="95.6" lengthAdjust="spacingAndGlyphs">Amplitude (a.u.)</text>
<text x="9.6" y="11.2" font-size="19" font-weight="bold" fill="#000">a</text>
<text x="-0.5" y="268" font-size="18" font-weight="bold" fill="#000">b</text>
<line x1="243.4" y1="263" x2="280" y2="263" stroke="#111" stroke-width="2.2"/>
<text x="286.6" y="266.2" font-size="12.2" text-anchor="start" fill="#222" textLength="62.8" lengthAdjust="spacingAndGlyphs">Amplitude</text>
<line x1="366.8" y1="263.1" x2="400" y2="263.1" stroke="#111" stroke-width="2.3" stroke-dasharray="2.2 3.88"/>
<text x="405" y="266.2" font-size="12.2" text-anchor="start" fill="#222" textLength="35.6" lengthAdjust="spacingAndGlyphs">Phase</text>
<clipPath id="clipA"><rect x="39.1" y="277.8" width="288.2" height="134.6"/></clipPath>
<g clip-path="url(#clipA)">
<path d="M39.1,316.4 L49,324 L59.9,332.8 L70.8,339.4 L81.8,347.3 L92,354.6 L99.3,360.4 L108.1,364.8 L116.8,369.2 L125.6,372.8 L134.4,375 L146.9,376.3 L161.6,375.6 L169.4,373.4 L178,371.5 L199.9,371.3 L210.8,369.8 L221.8,368.1 L236,367.3 L243,366.5 L246.1,362.4 L256.3,362.4 L263.6,364.6 L273.8,366.8 L281.1,368.2 L284,367.5 L291.3,369.7 L300.1,373.4 L307.4,377.7 L314.7,383.6 L322,389.4 L327.3,392.3 L327.3,412.4 L291.3,412.4 L288.4,408.4 L284,404 L279.6,397.4 L273.8,393.1 L266.5,388.7 L259.2,386.5 L247.5,380.7 L246.1,376.3 L243.1,375.5 L230,375.5 L221.8,375.5 L199.9,375 L178,375.5 L165,376.5 L155.4,379.2 L146.9,383 L140,387.5 L137.6,389.5 L128.4,397.7 L121.1,400.5 L110,395.9 L103.7,399 L92.7,394.2 L81.8,389.8 L70.8,387.6 L59.9,386.5 L49,386.5 L39.1,385.4Z" fill="#cfbbcd"/>
<linearGradient id="gA" gradientUnits="userSpaceOnUse" x1="0" y1="360.2" x2="0" y2="404.4"><stop offset="0" stop-color="#ece6eb" stop-opacity="0"/><stop offset="1" stop-color="#ece6eb" stop-opacity="0.75"/></linearGradient>
<path d="M39.1,410.4C52.7,410.4 67.4,410.4 80,410.3C90.8,410.3 101.8,410.3 110,410.1C115.8,410 120.7,409.8 124.7,409.6C127.6,409.4 129.9,409.2 132,409C133.5,408.9 134.7,408.8 136,408.6C137.3,408.4 138.9,408.2 140,407.7C141,407.3 141.5,406.7 142.4,405.9C143.8,404.6 145.7,402.5 147.1,400.5C148.6,398.4 150.1,396 151.3,393.4C152.7,390.5 153.7,387.1 154.8,383.9C155.9,380.7 156.8,377.7 157.8,374.4C158.8,370.9 159.8,367.4 160.8,363.7C161.8,359.9 162.8,355.5 163.7,351.9C164.4,348.9 165,346.7 165.7,343.5C166.6,339.2 167.6,333.2 168.6,328.2C169.6,323.4 170.7,318.8 171.8,314.3C172.8,309.9 173.9,305.5 175,301.4C176,297.7 177.1,293.4 178.2,290.7C178.9,288.9 179.6,287.5 180.5,286.5C181.2,285.7 182,284.9 182.8,284.8C183.5,284.7 184.4,285.1 185,285.5C185.7,286 186.2,286.5 186.8,287.5C188.1,289.4 189.7,293.9 191,297.1C192.2,300.3 193.2,303.5 194.3,306.8C195.4,310.3 196.4,313.9 197.5,317.5C198.6,321.1 199.7,324.5 200.7,328.2C201.8,332 202.9,336.2 203.9,340C204.8,343.5 205.6,346.6 206.5,350C207.5,353.5 208.5,357.4 209.5,360.8C210.5,364 211.5,367.3 212.5,370C213.3,372.2 214.1,374 215,376C215.9,378 216.8,379.9 217.9,381.9C219,383.9 220.2,385.9 221.5,387.9C222.8,389.9 224.2,391.9 225.7,393.8C227.3,395.8 229.1,397.8 231,399.7C232.9,401.6 234.8,403.6 236.9,405.1C239,406.5 241.1,407.8 243.5,408.6C246.1,409.5 248.1,409.8 252,410.1C260.1,410.8 277.4,410.2 290,410.2C302.5,410.2 314.9,410.2 327.3,410.2L327.3,412.4L39.1,412.4Z" fill="url(#gA)"/>
<path d="M163,412.4C163.7,408.3 164.4,404.7 165,400C165.8,393.7 166.5,385.4 167.4,378C168.3,370.4 169.6,361.9 170.5,355C171.2,349.5 172,345.2 172.5,340C173,334.3 173,327.9 173.5,322C174,316.2 174.6,310.3 175.5,305C176.3,300.2 176.9,295 178.5,291.5C179.6,289 181.3,285.7 182.8,285.6C184,285.5 185.4,287.4 186.5,289C188,291.2 189,295.2 190,298C190.8,300.5 191.5,302.1 192,305C192.7,309.4 192.8,316.3 193,322C193.3,327.9 193.1,334.3 193.5,340C193.8,345.2 194.3,349.5 195,355C195.9,361.9 197.7,370.4 198.9,378C200,385.4 200.8,393.7 202,400C202.9,404.7 204,408.3 205,412.4Z" fill="#ece6eb"/>
<path d="M39.1,410.4C52.7,410.4 67.4,410.4 80,410.3C90.8,410.3 101.8,410.3 110,410.1C115.8,410 120.7,409.8 124.7,409.6C127.6,409.4 129.9,409.2 132,409C133.5,408.9 134.7,408.8 136,408.6C137.3,408.4 138.9,408.2 140,407.7C141,407.3 141.5,406.7 142.4,405.9C143.8,404.6 145.7,402.5 147.1,400.5C148.6,398.4 150.1,396 151.3,393.4C152.7,390.5 153.7,387.1 154.8,383.9C155.9,380.7 156.8,377.7 157.8,374.4C158.8,370.9 159.8,367.4 160.8,363.7C161.8,359.9 162.8,355.5 163.7,351.9C164.4,348.9 165,346.7 165.7,343.5C166.6,339.2 167.6,333.2 168.6,328.2C169.6,323.4 170.7,318.8 171.8,314.3C172.8,309.9 173.9,305.5 175,301.4C176,297.7 177.1,293.4 178.2,290.7C178.9,288.9 179.6,287.5 180.5,286.5C181.2,285.7 182,284.9 182.8,284.8C183.5,284.7 184.4,285.1 185,285.5C185.7,286 186.2,286.5 186.8,287.5C188.1,289.4 189.7,293.9 191,297.1C192.2,300.3 193.2,303.5 194.3,306.8C195.4,310.3 196.4,313.9 197.5,317.5C198.6,321.1 199.7,324.5 200.7,328.2C201.8,332 202.9,336.2 203.9,340C204.8,343.5 205.6,346.6 206.5,350C207.5,353.5 208.5,357.4 209.5,360.8C210.5,364 211.5,367.3 212.5,370C213.3,372.2 214.1,374 215,376C215.9,378 216.8,379.9 217.9,381.9C219,383.9 220.2,385.9 221.5,387.9C222.8,389.9 224.2,391.9 225.7,393.8C227.3,395.8 229.1,397.8 231,399.7C232.9,401.6 234.8,403.6 236.9,405.1C239,406.5 241.1,407.8 243.5,408.6C246.1,409.5 248.1,409.8 252,410.1C260.1,410.8 277.4,410.2 290,410.2C302.5,410.2 314.9,410.2 327.3,410.2" fill="none" stroke="#570f48" stroke-opacity="0.13" stroke-width="6" stroke-linejoin="round"/>
<path d="M39.1,410.4C52.7,410.4 67.4,410.4 80,410.3C90.8,410.3 101.8,410.3 110,410.1C115.8,410 120.7,409.8 124.7,409.6C127.6,409.4 129.9,409.2 132,409C133.5,408.9 134.7,408.8 136,408.6C137.3,408.4 138.9,408.2 140,407.7C141,407.3 141.5,406.7 142.4,405.9C143.8,404.6 145.7,402.5 147.1,400.5C148.6,398.4 150.1,396 151.3,393.4C152.7,390.5 153.7,387.1 154.8,383.9C155.9,380.7 156.8,377.7 157.8,374.4C158.8,370.9 159.8,367.4 160.8,363.7C161.8,359.9 162.8,355.5 163.7,351.9C164.4,348.9 165,346.7 165.7,343.5C166.6,339.2 167.6,333.2 168.6,328.2C169.6,323.4 170.7,318.8 171.8,314.3C172.8,309.9 173.9,305.5 175,301.4C176,297.7 177.1,293.4 178.2,290.7C178.9,288.9 179.6,287.5 180.5,286.5C181.2,285.7 182,284.9 182.8,284.8C183.5,284.7 184.4,285.1 185,285.5C185.7,286 186.2,286.5 186.8,287.5C188.1,289.4 189.7,293.9 191,297.1C192.2,300.3 193.2,303.5 194.3,306.8C195.4,310.3 196.4,313.9 197.5,317.5C198.6,321.1 199.7,324.5 200.7,328.2C201.8,332 202.9,336.2 203.9,340C204.8,343.5 205.6,346.6 206.5,350C207.5,353.5 208.5,357.4 209.5,360.8C210.5,364 211.5,367.3 212.5,370C213.3,372.2 214.1,374 215,376C215.9,378 216.8,379.9 217.9,381.9C219,383.9 220.2,385.9 221.5,387.9C222.8,389.9 224.2,391.9 225.7,393.8C227.3,395.8 229.1,397.8 231,399.7C232.9,401.6 234.8,403.6 236.9,405.1C239,406.5 241.1,407.8 243.5,408.6C246.1,409.5 248.1,409.8 252,410.1C260.1,410.8 277.4,410.2 290,410.2C302.5,410.2 314.9,410.2 327.3,410.2" fill="none" stroke="#570f48" stroke-width="2.4" stroke-linejoin="round"/>
<path d="M39.1,350C41.2,350.6 43.3,351 45.3,351.7C47.3,352.3 49.2,353.1 51.1,353.9C52.9,354.6 54.5,355.4 56.2,356.1C57.9,356.8 59.7,357.5 61.4,358.2C63.1,358.9 64.8,359.4 66.5,360.1C68.2,360.8 69.9,361.8 71.6,362.6C73.3,363.4 75,364.1 76.7,364.8C78.4,365.5 80.1,366.2 81.8,367C83.5,367.8 85.2,368.7 86.9,369.6C88.6,370.5 90.3,371.5 92,372.4C93.7,373.3 95.4,374.2 97.1,375C98.8,375.8 100.5,376.5 102.2,377.2C103.9,377.9 105.6,378.4 107.3,379.1C109,379.8 110.8,380.7 112.5,381.2C114.2,381.7 115.8,382.2 117.6,382.3C119.5,382.4 121.5,382.1 123.4,381.9C125.3,381.7 127.4,381.8 129.2,381.3C131,380.8 132.6,379.5 134.4,378.7C136.2,377.8 137.6,376.8 140,376.2C143.9,375.2 149.7,375.3 156.1,374.7C165.3,373.8 180.1,372.2 190,371.5C197.8,370.9 205,371 210.8,370.5C215.1,370.1 218.4,369.4 221.8,369C224.7,368.7 227.6,368.5 230,368.2C231.9,368 233.4,367.5 235.1,367.5C236.8,367.5 238.5,368 240.2,368.2C241.9,368.5 243.6,368.5 245.3,369C247,369.5 248.7,370.4 250.4,371.2C252.1,372 253.8,372.8 255.5,373.6C257.2,374.5 259,375.5 260.7,376.3C262.4,377.1 264.1,377.8 265.8,378.5C267.5,379.2 269.2,380 270.9,380.7C272.6,381.3 274.3,381.7 276,382.4C277.7,383.1 279.4,383.8 281.1,384.7C282.8,385.6 284.5,386.7 286.2,387.7C287.9,388.7 289.7,389.9 291.3,390.9C292.8,391.9 294.2,392.9 295.7,393.8C297.3,394.8 299.2,395.6 300.8,396.7C302.4,397.8 303.7,399.3 305.2,400.4C306.6,401.5 308.1,402.3 309.6,403.3C311.2,404.4 312.8,405.5 314.4,406.6" fill="none" stroke="#570f48" stroke-width="2.7" stroke-dasharray="2.7 2.9"/>
</g>
<rect x="39.1" y="277.8" width="288.2" height="134.6" fill="none" stroke="#505050" stroke-width="1.1"/>
<text x="94.8" y="338" font-size="12.2" text-anchor="start" fill="#222" textLength="65.3" lengthAdjust="spacingAndGlyphs">2.8 ± 0.2 fs</text>
<line x1="111.9" y1="345.1" x2="155.1" y2="345.1" stroke="#000" stroke-width="1.6"/>
<path d="M159.6,345.1 L152.8,342.2 L154.6,345.1 L152.8,348Z" fill="#000"/>
<line x1="212.3" y1="345.1" x2="256.5" y2="345.1" stroke="#000" stroke-width="1.6"/>
<path d="M207.8,345.1 L214.6,342.2 L212.8,345.1 L214.6,348Z" fill="#000"/>
<text x="158.5" y="407.2" font-size="12" text-anchor="start" fill="#6b2862" textLength="47.3" lengthAdjust="spacingAndGlyphs">TL 1.5 fs</text>
<text x="201.4" y="298.4" font-size="12" text-anchor="start" fill="#6b2862" >A</text>
<text x="40.3" y="295" font-size="12.3" text-anchor="start" fill="#222" textLength="17.4" lengthAdjust="spacingAndGlyphs">1.4</text>
<text x="62.3" y="295" font-size="12.3" text-anchor="start" fill="#222" textLength="13.6" lengthAdjust="spacingAndGlyphs">µJ</text>
<line x1="31.5" y1="281.5" x2="39.1" y2="281.5" stroke="#505050" stroke-width="1"/>
<text x="28" y="285.8" font-size="12.2" text-anchor="end" fill="#222" >1</text>
<line x1="31.5" y1="408.4" x2="39.1" y2="408.4" stroke="#505050" stroke-width="1"/>
<text x="26.3" y="412.7" font-size="12.2" text-anchor="end" fill="#222" textLength="8.2" lengthAdjust="spacingAndGlyphs">0</text>
<text transform="translate(10.8,343.9) rotate(-90)" font-size="12.2" text-anchor="middle" fill="#222" textLength="72" lengthAdjust="spacingAndGlyphs">Power (a.u.)</text>
<clipPath id="clipB"><rect x="352.5" y="277.8" width="288.7" height="134.6"/></clipPath>
<g clip-path="url(#clipB)">
<path d="M352.5,321.6 L359.3,325.2 L366.6,331.1 L373.9,336.2 L381.2,339.8 L388.5,342 L395.8,344.2 L403.1,346.4 L410.4,347.8 L417.7,348.6 L422.1,350 L427.9,354.4 L433.8,358.8 L439.6,361 L445.4,363.2 L452,366.8 L457.1,371.5 L465.9,374.4 L476.8,374.9 L490,372.5 L513.9,371.2 L524.8,371.8 L535.8,371.5 L540,370.6 L554.9,369.9 L569.8,369.1 L581.7,369.9 L589.1,373.6 L596.6,377.3 L602.5,376.6 L610,379.6 L617.4,382.5 L624.9,386.3 L632.3,390 L641.2,393 L641.2,409 L610,408.8 L599.6,407.9 L592.1,406.4 L584.7,404.1 L577.2,399.7 L569.8,396 L562.3,391.5 L554.9,384.8 L547.4,381.8 L540,379.6 L535.8,376.6 L524.8,373.4 L500,376 L476.8,376.2 L461.5,377.1 L452,378.5 L439.6,379.2 L432.3,380 L425,380.7 L420.6,380.7 L417.7,383.6 L410.4,384.3 L403.1,384.3 L395.8,383.6 L388.5,382.9 L381.2,379.2 L373.9,374.9 L366.6,370.5 L359.3,366.8 L352.5,363.2Z" fill="#e8c9d4"/>
<linearGradient id="gB" gradientUnits="userSpaceOnUse" x1="0" y1="360.2" x2="0" y2="404.4"><stop offset="0" stop-color="#f9eef2" stop-opacity="0"/><stop offset="1" stop-color="#f9eef2" stop-opacity="0.75"/></linearGradient>
<path d="M352.5,408.7C368.3,408.7 384.8,408.7 400,408.6C413.9,408.5 431.1,408.5 440,408.3C444.4,408.2 447,408.7 450,407.9C452.7,407.2 455.1,406 457.3,404.2C459.8,402.1 462,398.7 463.9,395.5C466,392 467.5,388 469,383.8C470.7,379.2 472.1,374.1 473.4,369.2C474.7,364.4 476,359.1 477,354.6C477.8,350.9 478.2,348 478.9,344.2C479.8,339.4 480.6,333.5 481.8,328.2C483,322.8 484.7,316.9 486.1,312.1C487.2,308.2 488.2,305 489.3,301.4C490.4,297.8 491.5,293.7 492.5,290.7C493.2,288.5 493.8,286.6 494.6,285C495.3,283.8 496,282.1 496.8,282C497.6,281.9 498.5,283.1 499.3,284C500.3,285.2 501.3,286.6 502.1,288.6C503.4,291.7 504.3,297.3 505.3,301.4C506.2,305.1 507.1,308.4 508,312.1C508.9,316.2 509.9,320.7 510.7,324.9C511.5,329 512.2,333.4 512.8,337C513.3,339.9 513.6,342.2 514,345C514.4,348.1 514.4,351.1 515,354.6C515.8,359 517.3,364.4 518.6,369.2C519.9,374.1 521.1,379.5 523,383.8C524.6,387.6 526.5,391 528.8,394C530.9,396.8 533.5,399.3 536.1,401.3C538.4,403.1 541,404.7 543.4,405.7C545.6,406.6 547,407 550,407.4C556.4,408.3 568.2,408 580,408.2C596.8,408.5 620.8,408.7 641.2,409L641.2,412.4L352.5,412.4Z" fill="url(#gB)"/>
<path d="M479,412.4C479.2,407.3 479.3,402.5 479.5,397C479.7,390.8 479.8,383.4 480,377C480.2,371.1 480.2,365.5 480.5,360C480.7,354.8 481.2,350 481.5,345C481.8,340 481.8,335.1 482.5,330C483.2,324.5 484.7,318.1 486,313C487,308.7 488.2,305.2 489.3,301.4C490.4,297.8 491.2,294 492.5,290.7C493.7,287.7 495.1,282.7 496.8,282.5C498.4,282.3 500.7,286 502.1,288.6C503.8,291.9 504.3,297.3 505.3,301.4C506.2,305.1 507.4,308 508,312.1C508.8,317.3 508.8,324.3 509,330C509.2,335.2 509.2,340 509.2,345C509.2,350 509.2,354.8 509.2,360C509.2,365.5 509.4,371.1 509.5,377C509.6,383.4 509.9,390.8 510,397C510.1,402.5 510,407.3 510,412.4Z" fill="#f9eef2"/>
<path d="M352.5,408.7C368.3,408.7 384.8,408.7 400,408.6C413.9,408.5 431.1,408.5 440,408.3C444.4,408.2 447,408.7 450,407.9C452.7,407.2 455.1,406 457.3,404.2C459.8,402.1 462,398.7 463.9,395.5C466,392 467.5,388 469,383.8C470.7,379.2 472.1,374.1 473.4,369.2C474.7,364.4 476,359.1 477,354.6C477.8,350.9 478.2,348 478.9,344.2C479.8,339.4 480.6,333.5 481.8,328.2C483,322.8 484.7,316.9 486.1,312.1C487.2,308.2 488.2,305 489.3,301.4C490.4,297.8 491.5,293.7 492.5,290.7C493.2,288.5 493.8,286.6 494.6,285C495.3,283.8 496,282.1 496.8,282C497.6,281.9 498.5,283.1 499.3,284C500.3,285.2 501.3,286.6 502.1,288.6C503.4,291.7 504.3,297.3 505.3,301.4C506.2,305.1 507.1,308.4 508,312.1C508.9,316.2 509.9,320.7 510.7,324.9C511.5,329 512.2,333.4 512.8,337C513.3,339.9 513.6,342.2 514,345C514.4,348.1 514.4,351.1 515,354.6C515.8,359 517.3,364.4 518.6,369.2C519.9,374.1 521.1,379.5 523,383.8C524.6,387.6 526.5,391 528.8,394C530.9,396.8 533.5,399.3 536.1,401.3C538.4,403.1 541,404.7 543.4,405.7C545.6,406.6 547,407 550,407.4C556.4,408.3 568.2,408 580,408.2C596.8,408.5 620.8,408.7 641.2,409" fill="none" stroke="#932c52" stroke-opacity="0.13" stroke-width="6" stroke-linejoin="round"/>
<path d="M352.5,408.7C368.3,408.7 384.8,408.7 400,408.6C413.9,408.5 431.1,408.5 440,408.3C444.4,408.2 447,408.7 450,407.9C452.7,407.2 455.1,406 457.3,404.2C459.8,402.1 462,398.7 463.9,395.5C466,392 467.5,388 469,383.8C470.7,379.2 472.1,374.1 473.4,369.2C474.7,364.4 476,359.1 477,354.6C477.8,350.9 478.2,348 478.9,344.2C479.8,339.4 480.6,333.5 481.8,328.2C483,322.8 484.7,316.9 486.1,312.1C487.2,308.2 488.2,305 489.3,301.4C490.4,297.8 491.5,293.7 492.5,290.7C493.2,288.5 493.8,286.6 494.6,285C495.3,283.8 496,282.1 496.8,282C497.6,281.9 498.5,283.1 499.3,284C500.3,285.2 501.3,286.6 502.1,288.6C503.4,291.7 504.3,297.3 505.3,301.4C506.2,305.1 507.1,308.4 508,312.1C508.9,316.2 509.9,320.7 510.7,324.9C511.5,329 512.2,333.4 512.8,337C513.3,339.9 513.6,342.2 514,345C514.4,348.1 514.4,351.1 515,354.6C515.8,359 517.3,364.4 518.6,369.2C519.9,374.1 521.1,379.5 523,383.8C524.6,387.6 526.5,391 528.8,394C530.9,396.8 533.5,399.3 536.1,401.3C538.4,403.1 541,404.7 543.4,405.7C545.6,406.6 547,407 550,407.4C556.4,408.3 568.2,408 580,408.2C596.8,408.5 620.8,408.7 641.2,409" fill="none" stroke="#932c52" stroke-width="2.4" stroke-linejoin="round"/>
<path d="M352.7,341.3C354.7,342.3 356.7,343.3 358.6,344.2C360.4,345 362.1,345.5 363.7,346.4C365.3,347.2 366.6,348.3 368.1,349.3C369.7,350.4 371.5,351.6 373.2,352.7C374.9,353.7 376.6,354.7 378.3,355.6C380,356.4 381.7,357.1 383.4,357.8C385.1,358.4 386.7,358.9 388.5,359.5C390.4,360.1 392.4,360.9 394.3,361.4C396,361.9 397.6,362.1 399.4,362.4C401.3,362.7 403.4,363.1 405.3,363.2C407.1,363.3 408.7,363.2 410.4,363.2C412.1,363.2 413.8,363.1 415.5,362.9C417.2,362.7 418.9,362 420.6,362.2C422.5,362.4 424.6,363.8 426.5,364.3C428.2,364.8 429.9,365 431.6,365.4C433.3,365.8 434.9,366.3 436.7,366.8C438.6,367.3 440.6,367.7 442.5,368.3C444.3,368.9 445.9,369.7 447.6,370.2C449.3,370.7 450.6,371 452.7,371.2C456.1,371.5 461.2,371.4 465.9,371.2C471.3,371 477.5,370.1 483.4,369.6C489.5,369.1 496.5,368.5 502,368.3C506.4,368.1 510,368.1 513.9,368.3C517.6,368.5 521.2,369.1 524.8,369.6C528.5,370.1 532.6,370.9 535.8,371.5C538.2,372 540.1,372.4 542.2,372.9C544.2,373.4 546.3,373.8 548.2,374.4C550,374.9 551.7,375.5 553.4,376.1C555.1,376.7 556.9,377.5 558.6,378.1C560.3,378.7 562,379.1 563.8,379.6C565.7,380.2 567.9,380.9 569.8,381.5C571.6,382.1 573.3,382.6 575,383.3C576.7,384 578.6,384.6 580.2,385.5C581.8,386.4 583.1,387.7 584.7,388.5C586.3,389.3 588.2,389.7 589.9,390.4C591.6,391.1 593.4,391.8 595.1,392.5C596.8,393.3 598.6,394.1 600.3,394.9C602,395.7 603.8,396.6 605.5,397.4C607,398.1 608.5,398.6 610,399.4C611.7,400.2 613.5,401.4 615.2,402.3C616.9,403.2 618.7,404.1 620.4,404.9C622.1,405.7 624,406.5 625.6,407.1C626.9,407.6 628.1,407.9 629.3,408.3" fill="none" stroke="#962655" stroke-width="2.7" stroke-dasharray="2.7 2.9"/>
</g>
<rect x="352.5" y="277.8" width="288.7" height="134.6" fill="none" stroke="#505050" stroke-width="1.1"/>
<text x="413.9" y="338.3" font-size="12.2" text-anchor="start" fill="#222" textLength="62.8" lengthAdjust="spacingAndGlyphs">2.5 ± 0.1 fs</text>
<line x1="426.4" y1="344.9" x2="471.9" y2="344.9" stroke="#000" stroke-width="1.6"/>
<path d="M476.4,344.9 L469.6,342 L471.4,344.9 L469.6,347.8Z" fill="#000"/>
<line x1="521" y1="344.9" x2="565.4" y2="344.9" stroke="#000" stroke-width="1.6"/>
<path d="M516.5,344.9 L523.3,342 L521.5,344.9 L523.3,347.8Z" fill="#000"/>
<text x="473.5" y="407.3" font-size="12" text-anchor="start" fill="#a33d63" textLength="48.3" lengthAdjust="spacingAndGlyphs">TL 1.6 fs</text>
<text x="512.3" y="298.8" font-size="12" text-anchor="start" fill="#a33d63" >B</text>
<text x="355.5" y="294.8" font-size="12.3" text-anchor="start" fill="#222" textLength="18.6" lengthAdjust="spacingAndGlyphs">1.4</text>
<text x="377.4" y="294.8" font-size="12.3" text-anchor="start" fill="#222" textLength="13.9" lengthAdjust="spacingAndGlyphs">µJ</text>
<line x1="641.2" y1="291.5" x2="646.7" y2="291.5" stroke="#505050" stroke-width="1"/>
<text x="649.6" y="295.6" font-size="10.6" text-anchor="start" fill="#222" >12</text>
<line x1="641.2" y1="318.3" x2="646.7" y2="318.3" stroke="#505050" stroke-width="1"/>
<text x="649.6" y="322.4" font-size="10.6" text-anchor="start" fill="#222" >8</text>
<line x1="641.2" y1="345.2" x2="646.7" y2="345.2" stroke="#505050" stroke-width="1"/>
<text x="649.6" y="349.3" font-size="10.6" text-anchor="start" fill="#222" >4</text>
<line x1="641.2" y1="372.1" x2="646.7" y2="372.1" stroke="#505050" stroke-width="1"/>
<text x="649.6" y="376.2" font-size="10.6" text-anchor="start" fill="#222" >0</text>
<line x1="641.2" y1="399" x2="646.7" y2="399" stroke="#505050" stroke-width="1"/>
<text x="649.6" y="403.1" font-size="10.6" text-anchor="start" fill="#222" >−4</text>
<text transform="translate(671,345.1) rotate(90)" font-size="12.2" text-anchor="middle" fill="#222" textLength="66.5" lengthAdjust="spacingAndGlyphs">Phase (rad)</text>
<clipPath id="clipC"><rect x="39.1" y="432.5" width="288.2" height="134.8"/></clipPath>
<g clip-path="url(#clipC)">
<path d="M39.1,521.6 L48.5,520.8 L59,521.6 L63,519 L73,517.3 L83.6,514.6 L94,512.9 L104.6,512.9 L111.6,514.6 L116.8,519 L125.6,521.6 L136.1,524.3 L139,527 L140.5,531 L140.5,536 L138.5,540 L135.5,544 L132.6,547.5 L125.6,548.8 L116.8,550.2 L108,551.4 L99.3,550.9 L90.6,551.4 L81.8,552.3 L73,555.8 L66,561 L60,563.5 L39.1,563.5Z" fill="#eacfcd"/>
<path d="M249,538.6 L250.4,529.1 L256.3,527.6 L266.5,527.6 L273.8,529.8 L278.2,534.2 L288.4,537.8 L298.6,540 L305.9,543.7 L311.8,550.3 L320.5,554.6 L327.3,557.6 L327.3,564 L259.2,564 L256.3,553.2Z" fill="#eacfcd"/>
<linearGradient id="gC" gradientUnits="userSpaceOnUse" x1="0" y1="515" x2="0" y2="559.3"><stop offset="0" stop-color="#f8eeec" stop-opacity="0"/><stop offset="1" stop-color="#f8eeec" stop-opacity="0.75"/></linearGradient>
<path d="M39.1,562.8C59.4,562.7 84.1,562.8 100,562.6C110.2,562.5 118.5,562.5 125,562.2C129.1,562 131.8,561.8 135,561.5C138,561.2 141.2,561.6 143.8,560.5C146.3,559.4 148.5,557.3 150.3,555C152.3,552.6 153.7,549.4 155.1,546.2C156.6,542.7 157.9,538.9 159.1,535C160.3,530.9 161.4,526.7 162.3,522.1C163.3,517.1 164.3,511 165,506.1C165.6,501.9 165.9,498.1 166.5,494.3C167,490.7 167.6,487.4 168.3,483.9C169,480.4 170,477 170.9,473.5C171.8,470 172.6,466.6 173.5,463.1C174.4,459.7 175.2,456.2 176.1,452.8C177.1,449.3 178.2,445 179.2,442.4C179.8,440.8 180.3,439.7 181,438.5C181.7,437.4 182.5,435.7 183.3,435.6C184,435.5 185,436.5 185.7,437.2C186.6,438 187.3,439 188,440.3C189.1,442.2 190.1,444.9 191.1,447.6C192.2,450.7 193.2,454.5 194.2,457.9C195.3,461.4 196.5,464.9 197.4,468.3C198.2,471.6 198.8,474.8 199.4,478C200,481.1 200.5,484.1 201,487C201.5,489.7 202,492.2 202.6,495C203.3,498.1 204,501.5 204.9,504.8C205.8,508.1 206.8,511.3 207.8,514.6C208.8,517.9 209.7,521.4 210.8,524.5C211.8,527.3 213,529.9 214.3,532.4C215.6,534.8 217.2,537.2 218.7,539.3C220,541.1 221.2,542.6 222.7,544.3C224.3,546.2 226,548.5 228.1,550.3C230.4,552.3 233.4,554.2 236.2,555.8C239,557.4 242.2,558.9 245,559.9C247.4,560.8 249.1,561.4 252,561.8C256.6,562.5 262.3,562.1 270,562.2C283.7,562.4 308.2,562.4 327.3,562.5L327.3,567.3L39.1,567.3Z" fill="url(#gC)"/>
<path d="M160,567.3C160.8,562.2 161.7,557.6 162.5,552C163.5,545.3 164.5,537.6 165.5,530C166.5,521.9 167.6,512.9 168.5,505C169.3,498 169.7,491.7 170.5,485C171.3,478.3 172.4,470.7 173.5,465C174.3,460.8 175.1,457.6 176.1,454C177,450.4 177.8,446.5 179.2,443.5C180.3,441 181.8,437.2 183.3,437C184.7,436.8 186.7,439.7 188,441.5C189.4,443.5 190.2,446 191.1,448.6C192.2,451.7 193.2,455.1 194,459C194.9,463.7 195.4,469.4 196,475C196.7,481.3 197.3,488.3 198,495C198.8,501.7 199.6,508.6 200.5,515C201.3,520.9 202.2,526.1 203,532C203.9,538.4 204.6,545.8 205.5,552C206.3,557.4 207.2,562.2 208,567.3Z" fill="#f8eeec"/>
<path d="M39.1,562.8C59.4,562.7 84.1,562.8 100,562.6C110.2,562.5 118.5,562.5 125,562.2C129.1,562 131.8,561.8 135,561.5C138,561.2 141.2,561.6 143.8,560.5C146.3,559.4 148.5,557.3 150.3,555C152.3,552.6 153.7,549.4 155.1,546.2C156.6,542.7 157.9,538.9 159.1,535C160.3,530.9 161.4,526.7 162.3,522.1C163.3,517.1 164.3,511 165,506.1C165.6,501.9 165.9,498.1 166.5,494.3C167,490.7 167.6,487.4 168.3,483.9C169,480.4 170,477 170.9,473.5C171.8,470 172.6,466.6 173.5,463.1C174.4,459.7 175.2,456.2 176.1,452.8C177.1,449.3 178.2,445 179.2,442.4C179.8,440.8 180.3,439.7 181,438.5C181.7,437.4 182.5,435.7 183.3,435.6C184,435.5 185,436.5 185.7,437.2C186.6,438 187.3,439 188,440.3C189.1,442.2 190.1,444.9 191.1,447.6C192.2,450.7 193.2,454.5 194.2,457.9C195.3,461.4 196.5,464.9 197.4,468.3C198.2,471.6 198.8,474.8 199.4,478C200,481.1 200.5,484.1 201,487C201.5,489.7 202,492.2 202.6,495C203.3,498.1 204,501.5 204.9,504.8C205.8,508.1 206.8,511.3 207.8,514.6C208.8,517.9 209.7,521.4 210.8,524.5C211.8,527.3 213,529.9 214.3,532.4C215.6,534.8 217.2,537.2 218.7,539.3C220,541.1 221.2,542.6 222.7,544.3C224.3,546.2 226,548.5 228.1,550.3C230.4,552.3 233.4,554.2 236.2,555.8C239,557.4 242.2,558.9 245,559.9C247.4,560.8 249.1,561.4 252,561.8C256.6,562.5 262.3,562.1 270,562.2C283.7,562.4 308.2,562.4 327.3,562.5" fill="none" stroke="#b85a4c" stroke-opacity="0.13" stroke-width="6" stroke-linejoin="round"/>
<path d="M39.1,562.8C59.4,562.7 84.1,562.8 100,562.6C110.2,562.5 118.5,562.5 125,562.2C129.1,562 131.8,561.8 135,561.5C138,561.2 141.2,561.6 143.8,560.5C146.3,559.4 148.5,557.3 150.3,555C152.3,552.6 153.7,549.4 155.1,546.2C156.6,542.7 157.9,538.9 159.1,535C160.3,530.9 161.4,526.7 162.3,522.1C163.3,517.1 164.3,511 165,506.1C165.6,501.9 165.9,498.1 166.5,494.3C167,490.7 167.6,487.4 168.3,483.9C169,480.4 170,477 170.9,473.5C171.8,470 172.6,466.6 173.5,463.1C174.4,459.7 175.2,456.2 176.1,452.8C177.1,449.3 178.2,445 179.2,442.4C179.8,440.8 180.3,439.7 181,438.5C181.7,437.4 182.5,435.7 183.3,435.6C184,435.5 185,436.5 185.7,437.2C186.6,438 187.3,439 188,440.3C189.1,442.2 190.1,444.9 191.1,447.6C192.2,450.7 193.2,454.5 194.2,457.9C195.3,461.4 196.5,464.9 197.4,468.3C198.2,471.6 198.8,474.8 199.4,478C200,481.1 200.5,484.1 201,487C201.5,489.7 202,492.2 202.6,495C203.3,498.1 204,501.5 204.9,504.8C205.8,508.1 206.8,511.3 207.8,514.6C208.8,517.9 209.7,521.4 210.8,524.5C211.8,527.3 213,529.9 214.3,532.4C215.6,534.8 217.2,537.2 218.7,539.3C220,541.1 221.2,542.6 222.7,544.3C224.3,546.2 226,548.5 228.1,550.3C230.4,552.3 233.4,554.2 236.2,555.8C239,557.4 242.2,558.9 245,559.9C247.4,560.8 249.1,561.4 252,561.8C256.6,562.5 262.3,562.1 270,562.2C283.7,562.4 308.2,562.4 327.3,562.5" fill="none" stroke="#b85a4c" stroke-width="2.4" stroke-linejoin="round"/>
<path d="M39.8,550.5C42.1,549.3 44.3,548.1 46.8,547C49.5,545.8 52.6,544.7 55.5,543.5C58.4,542.3 61.4,541.2 64.3,540C67.2,538.8 70.1,537.5 73,536.2C75.9,534.9 78.8,533.2 81.8,532.2C84.7,531.3 87.7,530.9 90.6,530.4C93.5,530 96.4,529.5 99.3,529.5C102.2,529.5 105.1,529.8 108,530.4C111,531 113.9,532.1 116.8,533C119.7,533.9 123.3,535.2 125.6,535.7C127,536 127.7,536.3 129.1,536.3C131,536.3 133.8,535.5 136.1,534.8C138.5,534.1 140.6,533 143.1,532.2C145.9,531.3 149.1,530.2 151.9,529.5C154.5,528.9 156.1,528.6 159.3,528.3C165.1,527.7 176.8,526.8 184.1,526.9C190,527 195.1,527.7 199.9,528.4C203.9,529 207.2,529.7 210.8,530.5C214.5,531.3 218.4,532.6 221.8,533.4C224.7,534.1 227.5,534.5 230,534.9C232.1,535.2 233.9,535.3 235.8,535.7C237.8,536.1 239.7,536.7 241.7,537.1C243.6,537.5 245.6,537.9 247.5,538.1C249.5,538.4 251.7,538 253.4,538.6C255,539.2 256.1,540.6 257.7,541.5C259.5,542.5 261.6,543.4 263.6,544.1C265.5,544.8 267.5,545.1 269.4,545.6C271.4,546.1 273.4,546.7 275.3,547.3C277.3,548 279.2,548.7 281.1,549.5C283,550.3 284.9,551.3 286.9,552C288.8,552.7 290.9,553.2 292.8,553.9C294.8,554.6 296.8,555.3 298.6,556.1C300.2,556.8 301.4,557.5 303,558.3C304.8,559.2 306.9,560.2 308.8,561.2" fill="none" stroke="#bb5a4d" stroke-width="2.7" stroke-dasharray="2.7 2.9"/>
</g>
<rect x="39.1" y="432.5" width="288.2" height="134.8" fill="none" stroke="#505050" stroke-width="1.1"/>
<text x="99.2" y="493.3" font-size="12.2" text-anchor="start" fill="#222" textLength="62.8" lengthAdjust="spacingAndGlyphs">2.6 ± 0.1 fs</text>
<line x1="113.5" y1="499.9" x2="158.6" y2="499.9" stroke="#000" stroke-width="1.6"/>
<path d="M163.1,499.9 L156.3,497 L158.1,499.9 L156.3,502.8Z" fill="#000"/>
<line x1="210.3" y1="499.9" x2="254.6" y2="499.9" stroke="#000" stroke-width="1.6"/>
<path d="M205.8,499.9 L212.6,497 L210.8,499.9 L212.6,502.8Z" fill="#000"/>
<text x="158.4" y="561.8" font-size="12" text-anchor="start" fill="#c76a5e" textLength="47" lengthAdjust="spacingAndGlyphs">TL 1.8 fs</text>
<text x="200" y="454" font-size="12" text-anchor="start" fill="#c76a5e" >C</text>
<text x="40.8" y="450.7" font-size="12.3" text-anchor="start" fill="#222" textLength="17.4" lengthAdjust="spacingAndGlyphs">1.2</text>
<text x="61.7" y="450.7" font-size="12.3" text-anchor="start" fill="#222" textLength="14" lengthAdjust="spacingAndGlyphs">µJ</text>
<line x1="31.5" y1="436.1" x2="39.1" y2="436.1" stroke="#505050" stroke-width="1"/>
<text x="28" y="440.4" font-size="12.2" text-anchor="end" fill="#222" >1</text>
<line x1="31.5" y1="563.3" x2="39.1" y2="563.3" stroke="#505050" stroke-width="1"/>
<text x="26.3" y="567.6" font-size="12.2" text-anchor="end" fill="#222" textLength="8.2" lengthAdjust="spacingAndGlyphs">0</text>
<text transform="translate(10.8,498.7) rotate(-90)" font-size="12.2" text-anchor="middle" fill="#222" textLength="72" lengthAdjust="spacingAndGlyphs">Power (a.u.)</text>
<line x1="67.8" y1="567.3" x2="67.8" y2="573.0999999999999" stroke="#505050" stroke-width="1"/>
<text x="67.8" y="586" font-size="10.5" text-anchor="middle" fill="#222" >−8</text>
<line x1="125.5" y1="567.3" x2="125.5" y2="573.0999999999999" stroke="#505050" stroke-width="1"/>
<text x="125.5" y="586" font-size="10.5" text-anchor="middle" fill="#222" >−4</text>
<line x1="183.2" y1="567.3" x2="183.2" y2="573.0999999999999" stroke="#505050" stroke-width="1"/>
<text x="183.2" y="586" font-size="10.5" text-anchor="middle" fill="#222" >0</text>
<line x1="240.9" y1="567.3" x2="240.9" y2="573.0999999999999" stroke="#505050" stroke-width="1"/>
<text x="240.9" y="586" font-size="10.5" text-anchor="middle" fill="#222" >4</text>
<line x1="298.6" y1="567.3" x2="298.6" y2="573.0999999999999" stroke="#505050" stroke-width="1"/>
<text x="298.6" y="586" font-size="10.5" text-anchor="middle" fill="#222" >8</text>
<text x="183.2" y="604.4" font-size="12.2" text-anchor="middle" fill="#222" textLength="50.6" lengthAdjust="spacingAndGlyphs">Time (fs)</text>
<clipPath id="clipD"><rect x="352.5" y="432.5" width="288.7" height="134.8"/></clipPath>
<g clip-path="url(#clipD)">
<path d="M353.5,556.5 L357.8,550.7 L362.2,547 L366.6,545.5 L373.9,543.4 L381.2,540.4 L385.6,538.2 L390,537.5 L392.9,539.3 L398.7,539 L410.4,538.2 L422.1,539 L429.4,539.7 L432.3,541 L432.3,542 L427.9,543.4 L422.1,544.1 L413.3,544.8 L407.5,546.3 L401.6,548.5 L395.8,552.1 L390,555.8 L385.6,559.4 L381.2,563.8 L353.5,564Z" fill="#f0e2da"/>
<path d="M588,546 L592.1,545.2 L598.9,547.7 L605.6,550.3 L612.3,553.6 L619,557.8 L625.7,561.2 L632.4,564.5 L632.4,565.5 L588.5,565.5Z" fill="#f0e2da"/>
<path d="M531,529 L540,529.5 L546,531.2 L552,533.5 L557,536 L562,539 L567,542.3 L572,545.5 L577,548.3 L583,551.5 L588,553 L588,558 L583,557 L577,554 L572,551.3 L567,548 L562,544.5 L557,541.5 L552,538.8 L546,536.5 L540,534.5 L531,533Z" fill="#f0e2da"/>
<linearGradient id="gD" gradientUnits="userSpaceOnUse" x1="0" y1="515" x2="0" y2="559.3"><stop offset="0" stop-color="#f8f2ee" stop-opacity="0"/><stop offset="1" stop-color="#f8f2ee" stop-opacity="0.75"/></linearGradient>
<path d="M352.6,562.4C362.1,562.1 371.6,561.8 381.2,561.6C390.9,561.3 401.4,561.3 410.4,560.9C418.2,560.6 426.9,560.1 432.3,559.7C435.5,559.5 437.5,559.5 440,559C442.5,558.5 444.9,558 447.2,556.8C449.8,555.5 452.3,553.2 454.5,551C456.7,548.8 458.6,546.4 460.3,543.8C462,541.1 463.4,538 464.6,535.1C465.8,532.2 466.6,529.4 467.5,526.4C468.5,523.1 469.5,519.7 470.4,516.2C471.4,512.5 472.4,508.4 473.3,504.6C474.2,501.1 474.8,497.7 475.7,494.3C476.6,490.8 477.8,487.4 478.8,483.9C479.8,480.4 480.9,477 481.9,473.5C482.9,470 484,466.7 485,463.1C486.1,459.4 487,455.3 488.2,451.7C489.3,448.4 490.6,444.8 491.8,442.4C492.6,440.7 493.3,439.3 494.3,438.3C495.1,437.4 496.1,436.5 497,436.4C497.9,436.3 499,437 499.8,437.6C500.7,438.3 501.4,439.1 502.2,440.3C503.4,442.2 504.7,445.7 505.8,448.6C506.9,451.6 507.9,454.8 508.9,457.9C509.9,461 511,464.2 512,467.3C513,470.4 514.1,473.4 515.1,476.6C516.1,479.8 516.8,482.9 517.8,486.5C519,490.7 520.4,495.8 521.7,500.3C523,504.7 524.1,509.1 525.5,513.1C526.7,516.7 528.1,520 529.4,523.4C530.7,526.8 531.8,530.3 533.3,533.7C534.8,537.1 536.5,540.7 538.4,543.9C540.3,547.1 542.3,550.5 544.8,552.9C547.1,555.1 549.6,556.8 552.5,558.1C555.6,559.5 559.2,560.1 562.8,560.6C566.7,561.2 570.2,561.1 575,561.3C581.9,561.5 590.6,561.5 600,561.6C612,561.7 627.5,561.9 641.2,562L641.2,567.3L352.5,567.3Z" fill="url(#gD)"/>
<path d="M474,567.3C474.8,563.2 475.7,559.6 476.5,555C477.5,549.2 478.7,541.7 479.5,535C480.2,528.3 480.6,521.7 481,515C481.4,508.3 481.6,501.2 482,495C482.3,489.6 482.5,484.7 483,480C483.5,475.8 484.3,472 485,468C485.8,464 486.5,459.8 487.5,456C488.4,452.5 489.2,448.9 490.5,446C491.6,443.5 493,440.9 494.3,439.5C495.2,438.6 496.1,437.9 497,437.8C497.9,437.7 499,438.2 499.8,439C501.1,440.2 502,442.7 503,445C504.3,447.9 505.5,451.4 506.5,455C507.6,459 508.2,463.7 509,468C509.7,472.1 510.5,475.8 511,480C511.5,484.7 511.7,489.6 512,495C512.4,501.2 512.5,508.3 513,515C513.5,521.7 514.2,528.3 515,535C515.8,541.7 516.9,549.2 518,555C518.9,559.6 520,563.2 521,567.3Z" fill="#f8f2ee"/>
<path d="M352.6,562.4C362.1,562.1 371.6,561.8 381.2,561.6C390.9,561.3 401.4,561.3 410.4,560.9C418.2,560.6 426.9,560.1 432.3,559.7C435.5,559.5 437.5,559.5 440,559C442.5,558.5 444.9,558 447.2,556.8C449.8,555.5 452.3,553.2 454.5,551C456.7,548.8 458.6,546.4 460.3,543.8C462,541.1 463.4,538 464.6,535.1C465.8,532.2 466.6,529.4 467.5,526.4C468.5,523.1 469.5,519.7 470.4,516.2C471.4,512.5 472.4,508.4 473.3,504.6C474.2,501.1 474.8,497.7 475.7,494.3C476.6,490.8 477.8,487.4 478.8,483.9C479.8,480.4 480.9,477 481.9,473.5C482.9,470 484,466.7 485,463.1C486.1,459.4 487,455.3 488.2,451.7C489.3,448.4 490.6,444.8 491.8,442.4C492.6,440.7 493.3,439.3 494.3,438.3C495.1,437.4 496.1,436.5 497,436.4C497.9,436.3 499,437 499.8,437.6C500.7,438.3 501.4,439.1 502.2,440.3C503.4,442.2 504.7,445.7 505.8,448.6C506.9,451.6 507.9,454.8 508.9,457.9C509.9,461 511,464.2 512,467.3C513,470.4 514.1,473.4 515.1,476.6C516.1,479.8 516.8,482.9 517.8,486.5C519,490.7 520.4,495.8 521.7,500.3C523,504.7 524.1,509.1 525.5,513.1C526.7,516.7 528.1,520 529.4,523.4C530.7,526.8 531.8,530.3 533.3,533.7C534.8,537.1 536.5,540.7 538.4,543.9C540.3,547.1 542.3,550.5 544.8,552.9C547.1,555.1 549.6,556.8 552.5,558.1C555.6,559.5 559.2,560.1 562.8,560.6C566.7,561.2 570.2,561.1 575,561.3C581.9,561.5 590.6,561.5 600,561.6C612,561.7 627.5,561.9 641.2,562" fill="none" stroke="#c9977a" stroke-opacity="0.13" stroke-width="6" stroke-linejoin="round"/>
<path d="M352.6,562.4C362.1,562.1 371.6,561.8 381.2,561.6C390.9,561.3 401.4,561.3 410.4,560.9C418.2,560.6 426.9,560.1 432.3,559.7C435.5,559.5 437.5,559.5 440,559C442.5,558.5 444.9,558 447.2,556.8C449.8,555.5 452.3,553.2 454.5,551C456.7,548.8 458.6,546.4 460.3,543.8C462,541.1 463.4,538 464.6,535.1C465.8,532.2 466.6,529.4 467.5,526.4C468.5,523.1 469.5,519.7 470.4,516.2C471.4,512.5 472.4,508.4 473.3,504.6C474.2,501.1 474.8,497.7 475.7,494.3C476.6,490.8 477.8,487.4 478.8,483.9C479.8,480.4 480.9,477 481.9,473.5C482.9,470 484,466.7 485,463.1C486.1,459.4 487,455.3 488.2,451.7C489.3,448.4 490.6,444.8 491.8,442.4C492.6,440.7 493.3,439.3 494.3,438.3C495.1,437.4 496.1,436.5 497,436.4C497.9,436.3 499,437 499.8,437.6C500.7,438.3 501.4,439.1 502.2,440.3C503.4,442.2 504.7,445.7 505.8,448.6C506.9,451.6 507.9,454.8 508.9,457.9C509.9,461 511,464.2 512,467.3C513,470.4 514.1,473.4 515.1,476.6C516.1,479.8 516.8,482.9 517.8,486.5C519,490.7 520.4,495.8 521.7,500.3C523,504.7 524.1,509.1 525.5,513.1C526.7,516.7 528.1,520 529.4,523.4C530.7,526.8 531.8,530.3 533.3,533.7C534.8,537.1 536.5,540.7 538.4,543.9C540.3,547.1 542.3,550.5 544.8,552.9C547.1,555.1 549.6,556.8 552.5,558.1C555.6,559.5 559.2,560.1 562.8,560.6C566.7,561.2 570.2,561.1 575,561.3C581.9,561.5 590.6,561.5 600,561.6C612,561.7 627.5,561.9 641.2,562" fill="none" stroke="#c9977a" stroke-width="2.4" stroke-linejoin="round"/>
<path d="M359,568C359.8,567.5 360.5,567 361.5,566.4C362.9,565.5 364.9,564.3 366.6,563.1C368.3,561.9 370,560.6 371.7,559.4C373.4,558.2 375.1,557 376.8,555.8C378.5,554.6 380.2,553.5 381.9,552.4C383.6,551.4 385.3,550.4 387,549.5C388.7,548.6 390.3,547.7 392.1,547C394,546.3 396.1,546.1 398,545.5C400,544.9 401.8,544.1 403.8,543.6C405.7,543.1 407.7,542.9 409.7,542.6C411.6,542.3 413.6,541.9 415.5,541.6C417.4,541.3 419.4,541.2 421.3,540.9C423.3,540.6 425.2,540.4 427.2,540C429.1,539.6 431,539.2 433,538.7C435.2,538.1 437.6,537.2 440,536.5C442.4,535.8 444.8,535 447.2,534.3C449.6,533.6 452.1,532.9 454.5,532.2C456.9,531.5 459.3,530.7 461.7,530C464.1,529.3 466.6,528.3 469,527.8C471.4,527.3 473.8,527.3 476.2,527.1C478.6,526.9 481.1,526.6 483.5,526.4C485.9,526.2 488.3,526.2 490.7,526.1C493.1,526 495.6,526 498,526.1C500.4,526.2 502.7,526.4 505,526.6C507.2,526.8 509.3,527 511.4,527.2C513.5,527.4 515.7,527.7 517.8,527.9C520,528.1 522.5,528.2 524.3,528.5C525.6,528.7 526.2,529 527.5,529.3C529.3,529.8 532,530.6 534.2,531C536.2,531.4 538.2,531.3 540.1,531.8C542.1,532.3 544,533.1 546,533.8C548,534.5 550,535.2 551.9,536C553.7,536.8 555.3,537.6 556.9,538.5C558.6,539.4 560.2,540.4 561.9,541.5C563.6,542.6 565.3,543.8 567,544.9C568.7,546 570.3,547.2 572,548.2C573.7,549.2 575.3,550.1 577,551.1C578.9,552.2 581,553.6 582.9,554.4C584.6,555.1 586.3,555.1 588,555.6C589.9,556.1 592,556.6 593.8,557.3C595.6,558 597.2,559 598.9,560C600.6,561.1 602.2,562.5 603.9,563.7" fill="none" stroke="#c99478" stroke-width="2.7" stroke-dasharray="2.7 2.9"/>
</g>
<rect x="352.5" y="432.5" width="288.7" height="134.8" fill="none" stroke="#505050" stroke-width="1.1"/>
<text x="409.5" y="493.3" font-size="12.2" text-anchor="start" fill="#222" textLength="62.8" lengthAdjust="spacingAndGlyphs">3.2 ± 0.1 fs</text>
<line x1="422.1" y1="499.9" x2="467.5" y2="499.9" stroke="#000" stroke-width="1.6"/>
<path d="M472,499.9 L465.2,497 L467,499.9 L465.2,502.8Z" fill="#000"/>
<line x1="528.6" y1="499.9" x2="572.6" y2="499.9" stroke="#000" stroke-width="1.6"/>
<path d="M524.1,499.9 L530.9,497 L529.1,499.9 L530.9,502.8Z" fill="#000"/>
<text x="472.3" y="562.3" font-size="12" text-anchor="start" fill="#d6a88c" textLength="48.8" lengthAdjust="spacingAndGlyphs">TL 2.2 fs</text>
<text x="514.9" y="453.8" font-size="12" text-anchor="start" fill="#d6a88c" >D</text>
<text x="356.3" y="450.7" font-size="12.3" text-anchor="start" fill="#222" textLength="20.5" lengthAdjust="spacingAndGlyphs">3.0</text>
<text x="381.3" y="450.7" font-size="12.3" text-anchor="start" fill="#222" textLength="13.5" lengthAdjust="spacingAndGlyphs">µJ</text>
<line x1="641.2" y1="446.4" x2="646.7" y2="446.4" stroke="#505050" stroke-width="1"/>
<text x="649.6" y="450.5" font-size="10.6" text-anchor="start" fill="#222" >12</text>
<line x1="641.2" y1="473.2" x2="646.7" y2="473.2" stroke="#505050" stroke-width="1"/>
<text x="649.6" y="477.3" font-size="10.6" text-anchor="start" fill="#222" >8</text>
<line x1="641.2" y1="500.1" x2="646.7" y2="500.1" stroke="#505050" stroke-width="1"/>
<text x="649.6" y="504.2" font-size="10.6" text-anchor="start" fill="#222" >4</text>
<line x1="641.2" y1="527" x2="646.7" y2="527" stroke="#505050" stroke-width="1"/>
<text x="649.6" y="531.1" font-size="10.6" text-anchor="start" fill="#222" >0</text>
<line x1="641.2" y1="553.9" x2="646.7" y2="553.9" stroke="#505050" stroke-width="1"/>
<text x="649.6" y="558" font-size="10.6" text-anchor="start" fill="#222" >−4</text>
<text transform="translate(671,499.9) rotate(90)" font-size="12.2" text-anchor="middle" fill="#222" textLength="66.5" lengthAdjust="spacingAndGlyphs">Phase (rad)</text>
<line x1="381.5" y1="567.3" x2="381.5" y2="573.0999999999999" stroke="#505050" stroke-width="1"/>
<text x="381.5" y="586" font-size="10.5" text-anchor="middle" fill="#222" >−8</text>
<line x1="439.2" y1="567.3" x2="439.2" y2="573.0999999999999" stroke="#505050" stroke-width="1"/>
<text x="439.2" y="586" font-size="10.5" text-anchor="middle" fill="#222" >−4</text>
<line x1="496.9" y1="567.3" x2="496.9" y2="573.0999999999999" stroke="#505050" stroke-width="1"/>
<text x="496.9" y="586" font-size="10.5" text-anchor="middle" fill="#222" >0</text>
<line x1="554.5" y1="567.3" x2="554.5" y2="573.0999999999999" stroke="#505050" stroke-width="1"/>
<text x="554.5" y="586" font-size="10.5" text-anchor="middle" fill="#222" >4</text>
<line x1="612.2" y1="567.3" x2="612.2" y2="573.0999999999999" stroke="#505050" stroke-width="1"/>
<text x="612.2" y="586" font-size="10.5" text-anchor="middle" fill="#222" >8</text>
<text x="496.9" y="604.4" font-size="12.2" text-anchor="middle" fill="#222" textLength="50.6" lengthAdjust="spacingAndGlyphs">Time (fs)</text>
</svg></body></html>
